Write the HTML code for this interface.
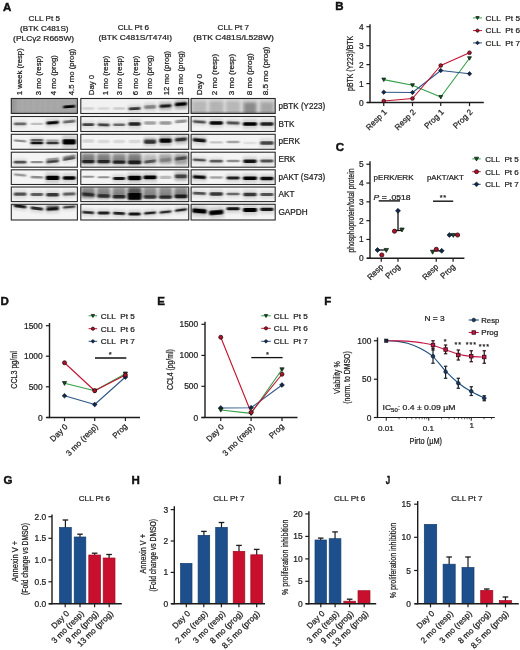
<!DOCTYPE html>
<html><head><meta charset="utf-8"><title>Figure</title>
<style>
html,body{margin:0;padding:0;background:#fff;}
body{width:520px;height:650px;overflow:hidden;font-family:"Liberation Sans", sans-serif;}
svg{display:block;font-family:"Liberation Sans", sans-serif;opacity:0.999;}
text{stroke:#222;stroke-width:0.24px;}
</style></head>
<body>
<svg width="520" height="650" viewBox="0 0 520 650">
<defs>
<filter id="b1" x="-30%" y="-150%" width="160%" height="400%"><feGaussianBlur stdDeviation="1.0 0.75"/></filter>
<filter id="b2" x="-30%" y="-100%" width="160%" height="300%"><feGaussianBlur stdDeviation="1.6 1.5"/></filter>
<filter id="b3" x="-20%" y="-50%" width="140%" height="200%"><feGaussianBlur stdDeviation="2.2"/></filter>
</defs>
<rect x="0" y="0" width="520" height="650" fill="#fff"/>
<text x="3" y="10.8" font-size="11.5" text-anchor="start" font-weight="bold" font-style="normal" fill="#111" style="stroke:#111;stroke-width:0.45px">A</text>
<text x="44.3" y="20.6" font-size="8.1" text-anchor="middle" font-weight="normal" font-style="normal" fill="#222" textLength="31.5" lengthAdjust="spacingAndGlyphs">CLL Pt 5</text>
<text x="44.3" y="30.6" font-size="8.1" text-anchor="middle" font-weight="normal" font-style="normal" fill="#222" textLength="48.5" lengthAdjust="spacingAndGlyphs">(BTK C481S)</text>
<text x="43.6" y="40.6" font-size="8.1" text-anchor="middle" font-weight="normal" font-style="normal" fill="#222" textLength="61" lengthAdjust="spacingAndGlyphs">(PLC&#947;2 R665W)</text>
<text x="133.4" y="29.8" font-size="8.1" text-anchor="middle" font-weight="normal" font-style="normal" fill="#222" textLength="31.5" lengthAdjust="spacingAndGlyphs">CLL Pt 6</text>
<text x="135.2" y="39.9" font-size="8.1" text-anchor="middle" font-weight="normal" font-style="normal" fill="#222" textLength="73.5" lengthAdjust="spacingAndGlyphs">(BTK C481S/T474I)</text>
<text x="233.3" y="29.8" font-size="8.1" text-anchor="middle" font-weight="normal" font-style="normal" fill="#222" textLength="31.5" lengthAdjust="spacingAndGlyphs">CLL Pt 7</text>
<text x="233.6" y="39.9" font-size="8.1" text-anchor="middle" font-weight="normal" font-style="normal" fill="#222" textLength="80.5" lengthAdjust="spacingAndGlyphs">(BTK C481S/L528W)</text>
<text transform="translate(22.3,95.2) rotate(-90) scale(1.0,1)" font-size="7.75" text-anchor="start" font-weight="normal" fill="#222">1 week (resp)</text>
<text transform="translate(40.9,95.2) rotate(-90) scale(1.0,1)" font-size="7.75" text-anchor="start" font-weight="normal" fill="#222">3 mo (resp)</text>
<text transform="translate(56.4,95.2) rotate(-90) scale(1.0,1)" font-size="7.75" text-anchor="start" font-weight="normal" fill="#222">4 mo (prog)</text>
<text transform="translate(74.0,95.2) rotate(-90) scale(1.0,1)" font-size="7.75" text-anchor="start" font-weight="normal" fill="#222">4.5 mo (prog)</text>
<text transform="translate(94.0,95.2) rotate(-90) scale(1.0,1)" font-size="7.75" text-anchor="start" font-weight="normal" fill="#222">Day 0</text>
<text transform="translate(108.3,95.2) rotate(-90) scale(1.0,1)" font-size="7.75" text-anchor="start" font-weight="normal" fill="#222">1 mo (resp)</text>
<text transform="translate(121.7,95.2) rotate(-90) scale(1.0,1)" font-size="7.75" text-anchor="start" font-weight="normal" fill="#222">3 mo (resp)</text>
<text transform="translate(137.8,95.2) rotate(-90) scale(1.0,1)" font-size="7.75" text-anchor="start" font-weight="normal" fill="#222">6 mo (resp)</text>
<text transform="translate(151.5,95.2) rotate(-90) scale(1.0,1)" font-size="7.75" text-anchor="start" font-weight="normal" fill="#222">9 mo (prog)</text>
<text transform="translate(169.0,95.2) rotate(-90) scale(1.0,1)" font-size="7.75" text-anchor="start" font-weight="normal" fill="#222">12 mo (prog)</text>
<text transform="translate(182.8,95.2) rotate(-90) scale(1.0,1)" font-size="7.75" text-anchor="start" font-weight="normal" fill="#222">13 mo (prog)</text>
<text transform="translate(201.9,95.2) rotate(-90) scale(1.0,1)" font-size="8.1" text-anchor="start" font-weight="normal" fill="#222">Day 0</text>
<text transform="translate(217.4,95.2) rotate(-90) scale(1.0,1)" font-size="8.1" text-anchor="start" font-weight="normal" fill="#222">2 mo (resp)</text>
<text transform="translate(234.3,95.2) rotate(-90) scale(1.0,1)" font-size="8.1" text-anchor="start" font-weight="normal" fill="#222">3 mo (resp)</text>
<text transform="translate(251.60000000000002,95.2) rotate(-90) scale(1.0,1)" font-size="8.1" text-anchor="start" font-weight="normal" fill="#222">8 mo (prog)</text>
<text transform="translate(267.6,95.2) rotate(-90) scale(1.0,1)" font-size="8.1" text-anchor="start" font-weight="normal" fill="#222">8.5 mo (prog)</text>
<clipPath id="c00"><rect x="11.3" y="98.5" width="66.10" height="15.00"/></clipPath>
<rect x="11.3" y="98.5" width="66.10" height="15.00" fill="#a6a6a6"/>
<g clip-path="url(#c00)">
<rect x="63.09" y="105.30" width="12.22" height="2.8" rx="1.4" fill="#000" opacity="0.975" filter="url(#b1)" transform="rotate(-4.21 69.20 106.7)"/>
<rect x="21.7" y="98" width="1.6" height="16" fill="#fff" opacity="0.07" filter="url(#b1)"/>
<rect x="27.2" y="98" width="1.6" height="16" fill="#fff" opacity="0.07" filter="url(#b1)"/>
<rect x="32.7" y="98" width="1.6" height="16" fill="#fff" opacity="0.07" filter="url(#b1)"/>
<rect x="39.2" y="98" width="1.6" height="16" fill="#fff" opacity="0.07" filter="url(#b1)"/>
<rect x="44.7" y="98" width="1.6" height="16" fill="#fff" opacity="0.07" filter="url(#b1)"/>
<rect x="50.2" y="98" width="1.6" height="16" fill="#fff" opacity="0.07" filter="url(#b1)"/>
<rect x="57.2" y="98" width="1.6" height="16" fill="#fff" opacity="0.07" filter="url(#b1)"/>
<rect x="10" y="111.8" width="69" height="2.2" fill="#000" opacity="0.12" filter="url(#b1)"/>
<rect x="10" y="98" width="6" height="16" fill="#000" opacity="0.08" filter="url(#b2)"/>
</g>
<rect x="11.3" y="98.5" width="66.10" height="15.00" fill="none" stroke="#2a2a2a" stroke-width="1.1"/>
<clipPath id="c01"><rect x="11.3" y="116.5" width="66.10" height="15.00"/></clipPath>
<rect x="11.3" y="116.5" width="66.10" height="15.00" fill="#f4f4f4"/>
<g clip-path="url(#c01)">
<rect x="13.30" y="120.26" width="13.60" height="7.28" fill="#000" opacity="0.080" filter="url(#b2)" transform="rotate(0.00 20.10 123.9)"/>
<rect x="13.80" y="122.55" width="12.60" height="2.6999999999999997" rx="1.3499999999999999" fill="#000" opacity="0.530" filter="url(#b1)" transform="rotate(0.00 20.10 123.9)"/>
<rect x="30.60" y="122.75" width="12.60" height="2.3" rx="1.15" fill="#000" opacity="0.212" filter="url(#b1)" transform="rotate(0.00 36.90 123.9)"/>
<rect x="45.80" y="118.84" width="13.60" height="7.72" fill="#000" opacity="0.144" filter="url(#b2)" transform="rotate(-4.54 52.60 122.7)"/>
<rect x="46.30" y="121.25" width="12.60" height="2.9" rx="1.4" fill="#000" opacity="0.954" filter="url(#b1)" transform="rotate(-4.54 52.60 122.7)"/>
<rect x="62.40" y="117.96" width="13.60" height="7.28" fill="#000" opacity="0.080" filter="url(#b2)" transform="rotate(-5.44 69.20 121.6)"/>
<rect x="62.90" y="120.25" width="12.60" height="2.6999999999999997" rx="1.3499999999999999" fill="#000" opacity="0.530" filter="url(#b1)" transform="rotate(-5.44 69.20 121.6)"/>
</g>
<rect x="11.3" y="116.5" width="66.10" height="15.00" fill="none" stroke="#2a2a2a" stroke-width="1.1"/>
<clipPath id="c02"><rect x="11.3" y="134.3" width="66.10" height="15.00"/></clipPath>
<rect x="11.3" y="134.3" width="66.10" height="15.00" fill="#f4f4f4"/>
<g clip-path="url(#c02)">
<rect x="13.80" y="139.65" width="12.60" height="2.3" rx="1.15" fill="#000" opacity="0.424" filter="url(#b1)" transform="rotate(4.54 20.10 140.8)"/>
<rect x="30.10" y="137.00" width="13.60" height="6.40" fill="#000" opacity="0.080" filter="url(#b2)" transform="rotate(0.00 36.90 140.2)"/>
<rect x="30.60" y="139.05" width="12.60" height="2.3" rx="1.15" fill="#000" opacity="0.530" filter="url(#b1)" transform="rotate(0.00 36.90 140.2)"/>
<rect x="30.10" y="139.58" width="13.60" height="6.84" fill="#000" opacity="0.136" filter="url(#b2)" transform="rotate(0.00 36.90 143)"/>
<rect x="30.60" y="141.75" width="12.60" height="2.5" rx="1.25" fill="#000" opacity="0.901" filter="url(#b1)" transform="rotate(0.00 36.90 143)"/>
<rect x="45.80" y="139.48" width="13.60" height="6.84" fill="#000" opacity="0.112" filter="url(#b2)" transform="rotate(0.00 52.60 142.9)"/>
<rect x="46.30" y="141.65" width="12.60" height="2.5" rx="1.25" fill="#000" opacity="0.742" filter="url(#b1)" transform="rotate(0.00 52.60 142.9)"/>
<rect x="46.30" y="139.45" width="12.60" height="2.1" rx="1.05" fill="#000" opacity="0.265" filter="url(#b1)" transform="rotate(0.00 52.60 140.5)"/>
<rect x="62.09" y="135.62" width="14.23" height="12.56" fill="#000" opacity="0.155" filter="url(#b2)" transform="rotate(0.00 69.20 141.9)"/>
<rect x="62.59" y="139.35" width="13.23" height="5.1" rx="1.4" fill="#000" opacity="1.000" filter="url(#b1)" transform="rotate(0.00 69.20 141.9)"/>
</g>
<rect x="11.3" y="134.3" width="66.10" height="15.00" fill="none" stroke="#2a2a2a" stroke-width="1.1"/>
<clipPath id="c03"><rect x="11.3" y="152.2" width="66.10" height="15.00"/></clipPath>
<rect x="11.3" y="152.2" width="66.10" height="15.00" fill="#f4f4f4"/>
<g clip-path="url(#c03)">
<rect x="13.30" y="158.56" width="13.60" height="7.28" fill="#000" opacity="0.096" filter="url(#b2)" transform="rotate(0.00 20.10 162.2)"/>
<rect x="13.80" y="160.85" width="12.60" height="2.6999999999999997" rx="1.3499999999999999" fill="#000" opacity="0.636" filter="url(#b1)" transform="rotate(0.00 20.10 162.2)"/>
<rect x="30.60" y="161.05" width="12.60" height="2.3" rx="1.15" fill="#000" opacity="0.424" filter="url(#b1)" transform="rotate(0.00 36.90 162.2)"/>
<rect x="45.80" y="158.08" width="13.60" height="6.84" fill="#000" opacity="0.112" filter="url(#b2)" transform="rotate(-5.44 52.60 161.5)"/>
<rect x="46.30" y="160.25" width="12.60" height="2.5" rx="1.25" fill="#000" opacity="0.742" filter="url(#b1)" transform="rotate(-5.44 52.60 161.5)"/>
<rect x="46.30" y="158.05" width="12.60" height="1.9000000000000001" rx="0.9500000000000001" fill="#000" opacity="0.318" filter="url(#b1)" transform="rotate(-5.44 52.60 159)"/>
<rect x="62.40" y="155.28" width="13.60" height="6.84" fill="#000" opacity="0.096" filter="url(#b2)" transform="rotate(-9.90 69.20 158.7)"/>
<rect x="62.90" y="157.45" width="12.60" height="2.5" rx="1.25" fill="#000" opacity="0.636" filter="url(#b1)" transform="rotate(-9.90 69.20 158.7)"/>
<rect x="62.90" y="155.55" width="12.60" height="2.1" rx="1.05" fill="#000" opacity="0.424" filter="url(#b1)" transform="rotate(-9.90 69.20 156.6)"/>
</g>
<rect x="11.3" y="152.2" width="66.10" height="15.00" fill="none" stroke="#2a2a2a" stroke-width="1.1"/>
<clipPath id="c04"><rect x="11.3" y="169.8" width="66.10" height="14.70"/></clipPath>
<rect x="11.3" y="169.8" width="66.10" height="14.70" fill="#f4f4f4"/>
<g clip-path="url(#c04)">
<rect x="13.80" y="173.85" width="12.60" height="2.3" rx="1.15" fill="#000" opacity="0.371" filter="url(#b1)" transform="rotate(5.44 20.10 175)"/>
<rect x="30.60" y="175.95" width="12.60" height="2.5" rx="1.25" fill="#000" opacity="0.424" filter="url(#b1)" transform="rotate(2.27 36.90 177.2)"/>
<rect x="45.48" y="172.50" width="14.23" height="10.80" fill="#000" opacity="0.160" filter="url(#b2)" transform="rotate(0.00 52.60 177.9)"/>
<rect x="45.98" y="175.75" width="13.23" height="4.3" rx="1.4" fill="#000" opacity="1.000" filter="url(#b1)" transform="rotate(0.00 52.60 177.9)"/>
<rect x="62.40" y="173.38" width="13.60" height="9.04" fill="#000" opacity="0.152" filter="url(#b2)" transform="rotate(0.00 69.20 177.9)"/>
<rect x="62.90" y="176.15" width="12.60" height="3.5" rx="1.4" fill="#000" opacity="1.000" filter="url(#b1)" transform="rotate(0.00 69.20 177.9)"/>
</g>
<rect x="11.3" y="169.8" width="66.10" height="14.70" fill="none" stroke="#2a2a2a" stroke-width="1.1"/>
<clipPath id="c05"><rect x="11.3" y="187.0" width="66.10" height="14.60"/></clipPath>
<rect x="11.3" y="187.0" width="66.10" height="14.60" fill="#f4f4f4"/>
<g clip-path="url(#c05)">
<rect x="13.30" y="189.90" width="13.60" height="8.60" fill="#000" opacity="0.096" filter="url(#b2)" transform="rotate(0.00 20.10 194.2)"/>
<rect x="13.80" y="192.55" width="12.60" height="3.3" rx="1.4" fill="#000" opacity="0.636" filter="url(#b1)" transform="rotate(0.00 20.10 194.2)"/>
<rect x="30.10" y="190.64" width="13.60" height="7.72" fill="#000" opacity="0.088" filter="url(#b2)" transform="rotate(0.00 36.90 194.5)"/>
<rect x="30.60" y="193.05" width="12.60" height="2.9" rx="1.4" fill="#000" opacity="0.583" filter="url(#b1)" transform="rotate(0.00 36.90 194.5)"/>
<rect x="45.80" y="190.28" width="13.60" height="9.04" fill="#000" opacity="0.112" filter="url(#b2)" transform="rotate(0.00 52.60 194.8)"/>
<rect x="46.30" y="193.05" width="12.60" height="3.5" rx="1.4" fill="#000" opacity="0.742" filter="url(#b1)" transform="rotate(0.00 52.60 194.8)"/>
<rect x="62.40" y="189.92" width="13.60" height="8.16" fill="#000" opacity="0.088" filter="url(#b2)" transform="rotate(-2.27 69.20 194)"/>
<rect x="62.90" y="192.45" width="12.60" height="3.0999999999999996" rx="1.4" fill="#000" opacity="0.583" filter="url(#b1)" transform="rotate(-2.27 69.20 194)"/>
</g>
<rect x="11.3" y="187.0" width="66.10" height="14.60" fill="none" stroke="#2a2a2a" stroke-width="1.1"/>
<clipPath id="c06"><rect x="11.3" y="204.3" width="66.10" height="15.70"/></clipPath>
<rect x="11.3" y="204.3" width="66.10" height="15.70" fill="#f4f4f4"/>
<g clip-path="url(#c06)">
<rect x="13.30" y="202.66" width="13.60" height="7.28" fill="#000" opacity="0.136" filter="url(#b2)" transform="rotate(6.79 20.10 206.3)"/>
<rect x="13.80" y="204.95" width="12.60" height="2.6999999999999997" rx="1.3499999999999999" fill="#000" opacity="0.901" filter="url(#b1)" transform="rotate(6.79 20.10 206.3)"/>
<rect x="30.10" y="204.64" width="13.60" height="7.72" fill="#000" opacity="0.120" filter="url(#b2)" transform="rotate(6.79 36.90 208.5)"/>
<rect x="30.60" y="207.05" width="12.60" height="2.9" rx="1.4" fill="#000" opacity="0.795" filter="url(#b1)" transform="rotate(6.79 36.90 208.5)"/>
<rect x="45.80" y="204.60" width="13.60" height="8.60" fill="#000" opacity="0.136" filter="url(#b2)" transform="rotate(-3.63 52.60 208.9)"/>
<rect x="46.30" y="207.25" width="12.60" height="3.3" rx="1.4" fill="#000" opacity="0.901" filter="url(#b1)" transform="rotate(-3.63 52.60 208.9)"/>
<rect x="46.30" y="205.45" width="12.60" height="2.1" rx="1.05" fill="#000" opacity="0.424" filter="url(#b1)" transform="rotate(0.00 52.60 206.5)"/>
<rect x="62.40" y="203.58" width="13.60" height="6.84" fill="#000" opacity="0.104" filter="url(#b2)" transform="rotate(-4.54 69.20 207)"/>
<rect x="62.90" y="205.75" width="12.60" height="2.5" rx="1.25" fill="#000" opacity="0.689" filter="url(#b1)" transform="rotate(-4.54 69.20 207)"/>
</g>
<rect x="11.3" y="204.3" width="66.10" height="15.70" fill="none" stroke="#2a2a2a" stroke-width="1.1"/>
<clipPath id="c10"><rect x="80.8" y="98.5" width="107.90" height="15.00"/></clipPath>
<rect x="80.8" y="98.5" width="107.90" height="15.00" fill="#f1f1f1"/>
<g clip-path="url(#c10)">
<rect x="82.20" y="107.35" width="12.00" height="2.3" rx="1.15" fill="#000" opacity="0.127" filter="url(#b1)" transform="rotate(0.00 88.20 108.5)"/>
<rect x="97.66" y="107.35" width="12.00" height="2.3" rx="1.15" fill="#000" opacity="0.106" filter="url(#b1)" transform="rotate(0.00 103.66 108.5)"/>
<rect x="113.12" y="107.35" width="12.00" height="2.3" rx="1.15" fill="#000" opacity="0.148" filter="url(#b1)" transform="rotate(0.00 119.12 108.5)"/>
<rect x="128.08" y="104.74" width="13.00" height="7.72" fill="#000" opacity="0.112" filter="url(#b2)" transform="rotate(-2.86 134.58 108.6)"/>
<rect x="128.58" y="107.15" width="12.00" height="2.9" rx="1.4" fill="#000" opacity="0.742" filter="url(#b1)" transform="rotate(-2.86 134.58 108.6)"/>
<rect x="144.04" y="105.35" width="12.00" height="3.3" rx="1.4" fill="#000" opacity="0.382" filter="url(#b1)" transform="rotate(-2.86 150.04 107)"/>
<rect x="159.00" y="102.14" width="13.00" height="7.72" fill="#000" opacity="0.128" filter="url(#b2)" transform="rotate(-3.81 165.50 106)"/>
<rect x="159.50" y="104.55" width="12.00" height="2.9" rx="1.4" fill="#000" opacity="0.848" filter="url(#b1)" transform="rotate(-3.81 165.50 106)"/>
<rect x="174.46" y="99.90" width="13.00" height="8.60" fill="#000" opacity="0.152" filter="url(#b2)" transform="rotate(-4.76 180.96 104.2)"/>
<rect x="174.96" y="102.55" width="12.00" height="3.3" rx="1.4" fill="#000" opacity="1.000" filter="url(#b1)" transform="rotate(-4.76 180.96 104.2)"/>
<rect x="144.04" y="103.00" width="12.00" height="8" rx="1.4" fill="#000" opacity="0.120" filter="url(#b2)" transform="rotate(0.00 150.04 107)"/>
<rect x="159.50" y="102.00" width="12.00" height="8" rx="1.4" fill="#000" opacity="0.140" filter="url(#b2)" transform="rotate(0.00 165.50 106)"/>
<rect x="174.96" y="101.00" width="12.00" height="8" rx="1.4" fill="#000" opacity="0.180" filter="url(#b2)" transform="rotate(0.00 180.96 105)"/>
</g>
<rect x="80.8" y="98.5" width="107.90" height="15.00" fill="none" stroke="#2a2a2a" stroke-width="1.1"/>
<clipPath id="c11"><rect x="80.8" y="116.5" width="107.90" height="15.00"/></clipPath>
<rect x="80.8" y="116.5" width="107.90" height="15.00" fill="#f4f4f4"/>
<g clip-path="url(#c11)">
<rect x="81.70" y="120.85" width="13.00" height="7.50" fill="#000" opacity="0.106" filter="url(#b2)" transform="rotate(0.00 88.20 124.6)"/>
<rect x="82.20" y="123.20" width="12.00" height="2.8" rx="1.4" fill="#000" opacity="0.700" filter="url(#b1)" transform="rotate(0.00 88.20 124.6)"/>
<rect x="97.16" y="121.05" width="13.00" height="7.50" fill="#000" opacity="0.106" filter="url(#b2)" transform="rotate(2.39 103.66 124.8)"/>
<rect x="97.66" y="123.40" width="12.00" height="2.8" rx="1.4" fill="#000" opacity="0.700" filter="url(#b1)" transform="rotate(2.39 103.66 124.8)"/>
<rect x="112.62" y="121.27" width="13.00" height="7.06" fill="#000" opacity="0.080" filter="url(#b2)" transform="rotate(0.00 119.12 124.8)"/>
<rect x="113.12" y="123.50" width="12.00" height="2.5999999999999996" rx="1.2999999999999998" fill="#000" opacity="0.530" filter="url(#b1)" transform="rotate(0.00 119.12 124.8)"/>
<rect x="128.08" y="119.26" width="13.00" height="9.48" fill="#000" opacity="0.125" filter="url(#b2)" transform="rotate(0.00 134.58 124)"/>
<rect x="128.58" y="122.15" width="12.00" height="3.6999999999999997" rx="1.4" fill="#000" opacity="0.827" filter="url(#b1)" transform="rotate(0.00 134.58 124)"/>
<rect x="144.04" y="121.35" width="12.00" height="3.3" rx="1.4" fill="#000" opacity="0.318" filter="url(#b1)" transform="rotate(0.00 150.04 123)"/>
<rect x="159.50" y="121.35" width="12.00" height="3.3" rx="1.4" fill="#000" opacity="0.360" filter="url(#b1)" transform="rotate(0.00 165.50 123)"/>
<rect x="174.96" y="119.65" width="12.00" height="3.3" rx="1.4" fill="#000" opacity="0.382" filter="url(#b1)" transform="rotate(-4.76 180.96 121.3)"/>
</g>
<rect x="80.8" y="116.5" width="107.90" height="15.00" fill="none" stroke="#2a2a2a" stroke-width="1.1"/>
<clipPath id="c12"><rect x="80.8" y="134.3" width="107.90" height="15.00"/></clipPath>
<rect x="80.8" y="134.3" width="107.90" height="15.00" fill="#f4f4f4"/>
<g clip-path="url(#c12)">
<rect x="82.20" y="139.35" width="12.00" height="3.3" rx="1.4" fill="#000" opacity="0.127" filter="url(#b1)" transform="rotate(0.00 88.20 141)"/>
<rect x="97.66" y="139.85" width="12.00" height="3.3" rx="1.4" fill="#000" opacity="0.106" filter="url(#b1)" transform="rotate(0.00 103.66 141.5)"/>
<rect x="113.12" y="139.85" width="12.00" height="3.3" rx="1.4" fill="#000" opacity="0.106" filter="url(#b1)" transform="rotate(0.00 119.12 141.5)"/>
<rect x="128.58" y="139.85" width="12.00" height="3.3" rx="1.4" fill="#000" opacity="0.106" filter="url(#b1)" transform="rotate(0.00 134.58 141.5)"/>
<rect x="143.54" y="137.70" width="13.00" height="8.60" fill="#000" opacity="0.112" filter="url(#b2)" transform="rotate(0.00 150.04 142)"/>
<rect x="144.04" y="140.35" width="12.00" height="3.3" rx="1.4" fill="#000" opacity="0.742" filter="url(#b1)" transform="rotate(0.00 150.04 142)"/>
<rect x="144.04" y="138.85" width="12.00" height="1.9000000000000001" rx="0.9500000000000001" fill="#000" opacity="0.318" filter="url(#b1)" transform="rotate(0.00 150.04 139.8)"/>
<rect x="159.00" y="135.20" width="13.00" height="10.80" fill="#000" opacity="0.144" filter="url(#b2)" transform="rotate(0.00 165.50 140.6)"/>
<rect x="159.50" y="138.45" width="12.00" height="4.3" rx="1.4" fill="#000" opacity="0.954" filter="url(#b1)" transform="rotate(0.00 165.50 140.6)"/>
<rect x="174.46" y="135.20" width="13.00" height="8.60" fill="#000" opacity="0.112" filter="url(#b2)" transform="rotate(-4.76 180.96 139.5)"/>
<rect x="174.96" y="137.85" width="12.00" height="3.3" rx="1.4" fill="#000" opacity="0.742" filter="url(#b1)" transform="rotate(-4.76 180.96 139.5)"/>
<rect x="144.04" y="137.00" width="12.00" height="8" rx="1.4" fill="#000" opacity="0.100" filter="url(#b2)" transform="rotate(0.00 150.04 141)"/>
<rect x="159.50" y="136.50" width="12.00" height="8" rx="1.4" fill="#000" opacity="0.150" filter="url(#b2)" transform="rotate(0.00 165.50 140.5)"/>
<rect x="174.96" y="136.00" width="12.00" height="8" rx="1.4" fill="#000" opacity="0.120" filter="url(#b2)" transform="rotate(0.00 180.96 140)"/>
</g>
<rect x="80.8" y="134.3" width="107.90" height="15.00" fill="none" stroke="#2a2a2a" stroke-width="1.1"/>
<clipPath id="c13"><rect x="80.8" y="152.2" width="107.90" height="15.00"/></clipPath>
<rect x="80.8" y="152.2" width="107.90" height="15.00" fill="#f4f4f4"/>
<g clip-path="url(#c13)">
<rect x="81.48" y="153.30" width="13.44" height="10" rx="1.4" fill="#000" opacity="0.450" filter="url(#b2)" transform="rotate(0.00 88.20 158.3)"/>
<rect x="96.94" y="153.30" width="13.44" height="10" rx="1.4" fill="#000" opacity="0.450" filter="url(#b2)" transform="rotate(0.00 103.66 158.3)"/>
<rect x="112.40" y="153.60" width="13.44" height="10" rx="1.4" fill="#000" opacity="0.420" filter="url(#b2)" transform="rotate(0.00 119.12 158.6)"/>
<rect x="127.86" y="153.35" width="13.44" height="10.5" rx="1.4" fill="#000" opacity="0.460" filter="url(#b2)" transform="rotate(0.00 134.58 158.6)"/>
<rect x="143.44" y="154.00" width="13.20" height="10" rx="1.4" fill="#000" opacity="0.200" filter="url(#b2)" transform="rotate(0.00 150.04 159)"/>
<rect x="158.90" y="154.00" width="13.20" height="10" rx="1.4" fill="#000" opacity="0.320" filter="url(#b2)" transform="rotate(0.00 165.50 159)"/>
<rect x="174.36" y="154.00" width="13.20" height="11" rx="1.4" fill="#000" opacity="0.300" filter="url(#b2)" transform="rotate(0.00 180.96 159.5)"/>
<rect x="81.40" y="157.30" width="13.60" height="8.60" fill="#000" opacity="0.109" filter="url(#b2)" transform="rotate(0.00 88.20 161.6)"/>
<rect x="81.90" y="159.95" width="12.60" height="3.3" rx="1.4" fill="#000" opacity="0.721" filter="url(#b1)" transform="rotate(0.00 88.20 161.6)"/>
<rect x="96.86" y="157.30" width="13.60" height="8.60" fill="#000" opacity="0.109" filter="url(#b2)" transform="rotate(0.00 103.66 161.6)"/>
<rect x="97.36" y="159.95" width="12.60" height="3.3" rx="1.4" fill="#000" opacity="0.721" filter="url(#b1)" transform="rotate(0.00 103.66 161.6)"/>
<rect x="112.32" y="157.90" width="13.60" height="8.60" fill="#000" opacity="0.112" filter="url(#b2)" transform="rotate(0.00 119.12 162.2)"/>
<rect x="112.82" y="160.55" width="12.60" height="3.3" rx="1.4" fill="#000" opacity="0.742" filter="url(#b1)" transform="rotate(0.00 119.12 162.2)"/>
<rect x="127.60" y="157.44" width="13.96" height="9.92" fill="#000" opacity="0.118" filter="url(#b2)" transform="rotate(0.00 134.58 162.4)"/>
<rect x="128.10" y="160.45" width="12.96" height="3.9" rx="1.4" fill="#000" opacity="0.784" filter="url(#b1)" transform="rotate(0.00 134.58 162.4)"/>
<rect x="143.54" y="157.64" width="13.00" height="7.72" fill="#000" opacity="0.080" filter="url(#b2)" transform="rotate(-7.13 150.04 161.5)"/>
<rect x="144.04" y="160.05" width="12.00" height="2.9" rx="1.4" fill="#000" opacity="0.530" filter="url(#b1)" transform="rotate(-7.13 150.04 161.5)"/>
<rect x="159.50" y="158.35" width="12.00" height="3.3" rx="1.4" fill="#000" opacity="0.233" filter="url(#b1)" transform="rotate(-4.76 165.50 160)"/>
<rect x="174.46" y="154.10" width="13.00" height="8.60" fill="#000" opacity="0.080" filter="url(#b2)" transform="rotate(-7.13 180.96 158.4)"/>
<rect x="174.96" y="156.75" width="12.00" height="3.3" rx="1.4" fill="#000" opacity="0.530" filter="url(#b1)" transform="rotate(-7.13 180.96 158.4)"/>
</g>
<rect x="80.8" y="152.2" width="107.90" height="15.00" fill="none" stroke="#2a2a2a" stroke-width="1.1"/>
<clipPath id="c14"><rect x="80.8" y="169.8" width="107.90" height="14.70"/></clipPath>
<rect x="80.8" y="169.8" width="107.90" height="14.70" fill="#f4f4f4"/>
<g clip-path="url(#c14)">
<rect x="82.20" y="175.75" width="12.00" height="2.1" rx="1.05" fill="#000" opacity="0.403" filter="url(#b1)" transform="rotate(0.00 88.20 176.8)"/>
<rect x="97.66" y="176.15" width="12.00" height="2.1" rx="1.05" fill="#000" opacity="0.403" filter="url(#b1)" transform="rotate(0.00 103.66 177.2)"/>
<rect x="112.62" y="174.64" width="13.00" height="7.72" fill="#000" opacity="0.136" filter="url(#b2)" transform="rotate(0.00 119.12 178.5)"/>
<rect x="113.12" y="177.05" width="12.00" height="2.9" rx="1.4" fill="#000" opacity="0.901" filter="url(#b1)" transform="rotate(0.00 119.12 178.5)"/>
<rect x="127.48" y="172.60" width="14.20" height="10.80" fill="#000" opacity="0.160" filter="url(#b2)" transform="rotate(0.00 134.58 178)"/>
<rect x="127.98" y="175.85" width="13.20" height="4.3" rx="1.4" fill="#000" opacity="1.000" filter="url(#b1)" transform="rotate(0.00 134.58 178)"/>
<rect x="143.06" y="172.66" width="13.96" height="9.48" fill="#000" opacity="0.160" filter="url(#b2)" transform="rotate(0.00 150.04 177.4)"/>
<rect x="143.56" y="175.55" width="12.96" height="3.6999999999999997" rx="1.4" fill="#000" opacity="1.000" filter="url(#b1)" transform="rotate(0.00 150.04 177.4)"/>
<rect x="159.50" y="175.75" width="12.00" height="3.3" rx="1.4" fill="#000" opacity="0.233" filter="url(#b1)" transform="rotate(0.00 165.50 177.4)"/>
<rect x="174.46" y="171.56" width="13.00" height="9.48" fill="#000" opacity="0.096" filter="url(#b2)" transform="rotate(0.00 180.96 176.3)"/>
<rect x="174.96" y="174.45" width="12.00" height="3.6999999999999997" rx="1.4" fill="#000" opacity="0.636" filter="url(#b1)" transform="rotate(0.00 180.96 176.3)"/>
<rect x="174.66" y="172.50" width="12.60" height="8" rx="1.4" fill="#000" opacity="0.200" filter="url(#b2)" transform="rotate(0.00 180.96 176.5)"/>
</g>
<rect x="80.8" y="169.8" width="107.90" height="14.70" fill="none" stroke="#2a2a2a" stroke-width="1.1"/>
<clipPath id="c15"><rect x="80.8" y="187.0" width="107.90" height="14.60"/></clipPath>
<rect x="80.8" y="187.0" width="107.90" height="14.60" fill="#f4f4f4"/>
<g clip-path="url(#c15)">
<rect x="81.48" y="187.00" width="13.44" height="11" rx="1.4" fill="#000" opacity="0.420" filter="url(#b2)" transform="rotate(0.00 88.20 192.5)"/>
<rect x="96.94" y="187.00" width="13.44" height="11" rx="1.4" fill="#000" opacity="0.420" filter="url(#b2)" transform="rotate(0.00 103.66 192.5)"/>
<rect x="112.40" y="187.00" width="13.44" height="11" rx="1.4" fill="#000" opacity="0.420" filter="url(#b2)" transform="rotate(0.00 119.12 192.5)"/>
<rect x="127.86" y="187.00" width="13.44" height="11" rx="1.4" fill="#000" opacity="0.420" filter="url(#b2)" transform="rotate(0.00 134.58 192.5)"/>
<rect x="143.32" y="187.00" width="13.44" height="11" rx="1.4" fill="#000" opacity="0.420" filter="url(#b2)" transform="rotate(0.00 150.04 192.5)"/>
<rect x="158.78" y="187.00" width="13.44" height="11" rx="1.4" fill="#000" opacity="0.420" filter="url(#b2)" transform="rotate(0.00 165.50 192.5)"/>
<rect x="174.24" y="187.00" width="13.44" height="11" rx="1.4" fill="#000" opacity="0.420" filter="url(#b2)" transform="rotate(0.00 180.96 192.5)"/>
<rect x="127.98" y="188.00" width="13.20" height="12" rx="1.4" fill="#000" opacity="0.300" filter="url(#b2)" transform="rotate(0.00 134.58 194)"/>
<rect x="81.40" y="190.08" width="13.60" height="9.04" fill="#000" opacity="0.099" filter="url(#b2)" transform="rotate(5.44 88.20 194.6)"/>
<rect x="81.90" y="192.85" width="12.60" height="3.5" rx="1.4" fill="#000" opacity="0.657" filter="url(#b1)" transform="rotate(5.44 88.20 194.6)"/>
<rect x="96.86" y="191.48" width="13.60" height="9.04" fill="#000" opacity="0.099" filter="url(#b2)" transform="rotate(1.82 103.66 196)"/>
<rect x="97.36" y="194.25" width="12.60" height="3.5" rx="1.4" fill="#000" opacity="0.657" filter="url(#b1)" transform="rotate(1.82 103.66 196)"/>
<rect x="112.32" y="192.28" width="13.60" height="9.04" fill="#000" opacity="0.109" filter="url(#b2)" transform="rotate(0.00 119.12 196.8)"/>
<rect x="112.82" y="195.05" width="12.60" height="3.5" rx="1.4" fill="#000" opacity="0.721" filter="url(#b1)" transform="rotate(0.00 119.12 196.8)"/>
<rect x="127.48" y="188.25" width="14.20" height="16.30" fill="#000" opacity="0.144" filter="url(#b2)" transform="rotate(0.00 134.58 196.4)"/>
<rect x="127.98" y="193.00" width="13.20" height="6.8" rx="1.4" fill="#000" opacity="0.954" filter="url(#b1)" transform="rotate(0.00 134.58 196.4)"/>
<rect x="143.24" y="192.70" width="13.60" height="8.60" fill="#000" opacity="0.099" filter="url(#b2)" transform="rotate(0.00 150.04 197)"/>
<rect x="143.74" y="195.35" width="12.60" height="3.3" rx="1.4" fill="#000" opacity="0.657" filter="url(#b1)" transform="rotate(0.00 150.04 197)"/>
<rect x="158.70" y="192.90" width="13.60" height="8.60" fill="#000" opacity="0.109" filter="url(#b2)" transform="rotate(0.00 165.50 197.2)"/>
<rect x="159.20" y="195.55" width="12.60" height="3.3" rx="1.4" fill="#000" opacity="0.721" filter="url(#b1)" transform="rotate(0.00 165.50 197.2)"/>
<rect x="174.16" y="191.66" width="13.60" height="9.48" fill="#000" opacity="0.120" filter="url(#b2)" transform="rotate(0.00 180.96 196.4)"/>
<rect x="174.66" y="194.55" width="12.60" height="3.6999999999999997" rx="1.4" fill="#000" opacity="0.795" filter="url(#b1)" transform="rotate(0.00 180.96 196.4)"/>
</g>
<rect x="80.8" y="187.0" width="107.90" height="14.60" fill="none" stroke="#2a2a2a" stroke-width="1.1"/>
<clipPath id="c16"><rect x="80.8" y="204.3" width="107.90" height="15.70"/></clipPath>
<rect x="80.8" y="204.3" width="107.90" height="15.70" fill="#f4f4f4"/>
<g clip-path="url(#c16)">
<rect x="81.70" y="208.86" width="13.00" height="7.28" fill="#000" opacity="0.128" filter="url(#b2)" transform="rotate(3.81 88.20 212.5)"/>
<rect x="82.20" y="211.15" width="12.00" height="2.6999999999999997" rx="1.3499999999999999" fill="#000" opacity="0.848" filter="url(#b1)" transform="rotate(3.81 88.20 212.5)"/>
<rect x="97.16" y="209.14" width="13.00" height="7.72" fill="#000" opacity="0.128" filter="url(#b2)" transform="rotate(0.00 103.66 213)"/>
<rect x="97.66" y="211.55" width="12.00" height="2.9" rx="1.4" fill="#000" opacity="0.848" filter="url(#b1)" transform="rotate(0.00 103.66 213)"/>
<rect x="112.62" y="209.76" width="13.00" height="7.28" fill="#000" opacity="0.128" filter="url(#b2)" transform="rotate(2.86 119.12 213.4)"/>
<rect x="113.12" y="212.05" width="12.00" height="2.6999999999999997" rx="1.3499999999999999" fill="#000" opacity="0.848" filter="url(#b1)" transform="rotate(2.86 119.12 213.4)"/>
<rect x="128.08" y="209.92" width="13.00" height="8.16" fill="#000" opacity="0.136" filter="url(#b2)" transform="rotate(0.00 134.58 214)"/>
<rect x="128.58" y="212.45" width="12.00" height="3.0999999999999996" rx="1.4" fill="#000" opacity="0.901" filter="url(#b1)" transform="rotate(0.00 134.58 214)"/>
<rect x="143.54" y="209.58" width="13.00" height="6.84" fill="#000" opacity="0.128" filter="url(#b2)" transform="rotate(-4.76 150.04 213)"/>
<rect x="144.04" y="211.75" width="12.00" height="2.5" rx="1.25" fill="#000" opacity="0.848" filter="url(#b1)" transform="rotate(-4.76 150.04 213)"/>
<rect x="159.00" y="208.80" width="13.00" height="6.40" fill="#000" opacity="0.120" filter="url(#b2)" transform="rotate(-5.71 165.50 212)"/>
<rect x="159.50" y="210.85" width="12.00" height="2.3" rx="1.15" fill="#000" opacity="0.795" filter="url(#b1)" transform="rotate(-5.71 165.50 212)"/>
<rect x="174.46" y="206.58" width="13.00" height="6.84" fill="#000" opacity="0.128" filter="url(#b2)" transform="rotate(-7.13 180.96 210)"/>
<rect x="174.96" y="208.75" width="12.00" height="2.5" rx="1.25" fill="#000" opacity="0.848" filter="url(#b1)" transform="rotate(-7.13 180.96 210)"/>
</g>
<rect x="80.8" y="204.3" width="107.90" height="15.70" fill="none" stroke="#2a2a2a" stroke-width="1.1"/>
<clipPath id="c20"><rect x="191.1" y="98.5" width="84.10" height="15.00"/></clipPath>
<rect x="191.1" y="98.5" width="84.10" height="15.00" fill="#c6c6c6"/>
<g clip-path="url(#c20)">
<rect x="193.46" y="101.00" width="11.88" height="12" rx="1.4" fill="#000" opacity="0.070" filter="url(#b2)" transform="rotate(0.00 199.40 107)"/>
<rect x="210.33" y="101.00" width="11.88" height="12" rx="1.4" fill="#000" opacity="0.090" filter="url(#b2)" transform="rotate(0.00 216.27 107)"/>
<rect x="227.20" y="101.00" width="11.88" height="12" rx="1.4" fill="#000" opacity="0.070" filter="url(#b2)" transform="rotate(0.00 233.14 107)"/>
<rect x="244.07" y="102.50" width="11.88" height="11" rx="1.4" fill="#000" opacity="0.300" filter="url(#b2)" transform="rotate(0.00 250.01 108)"/>
<rect x="260.94" y="102.50" width="11.88" height="11" rx="1.4" fill="#000" opacity="0.160" filter="url(#b2)" transform="rotate(0.00 266.88 108)"/>
<rect x="206.7" y="98" width="2.0" height="16" fill="#fff" opacity="0.33" filter="url(#b1)"/>
<rect x="223.8" y="98" width="2.0" height="16" fill="#fff" opacity="0.33" filter="url(#b1)"/>
<rect x="240.4" y="98" width="2.0" height="16" fill="#fff" opacity="0.33" filter="url(#b1)"/>
<rect x="257.5" y="98" width="2.0" height="16" fill="#fff" opacity="0.33" filter="url(#b1)"/>
<rect x="190" y="97.5" width="87" height="3.4" fill="#fff" opacity="0.35" filter="url(#b2)"/>
<rect x="190" y="111.6" width="87" height="2.6" fill="#000" opacity="0.22" filter="url(#b1)"/>
</g>
<rect x="191.1" y="98.5" width="84.10" height="15.00" fill="none" stroke="#2a2a2a" stroke-width="1.1"/>
<clipPath id="c21"><rect x="191.1" y="116.5" width="84.10" height="15.00"/></clipPath>
<rect x="191.1" y="116.5" width="84.10" height="15.00" fill="#f4f4f4"/>
<g clip-path="url(#c21)">
<rect x="192.30" y="118.16" width="14.20" height="7.28" fill="#000" opacity="0.096" filter="url(#b2)" transform="rotate(4.33 199.40 121.8)"/>
<rect x="192.80" y="120.45" width="13.20" height="2.6999999999999997" rx="1.3499999999999999" fill="#000" opacity="0.636" filter="url(#b1)" transform="rotate(4.33 199.40 121.8)"/>
<rect x="209.17" y="118.70" width="14.20" height="8.60" fill="#000" opacity="0.144" filter="url(#b2)" transform="rotate(0.00 216.27 123)"/>
<rect x="209.67" y="121.35" width="13.20" height="3.3" rx="1.4" fill="#000" opacity="0.954" filter="url(#b1)" transform="rotate(0.00 216.27 123)"/>
<rect x="226.04" y="119.14" width="14.20" height="7.72" fill="#000" opacity="0.096" filter="url(#b2)" transform="rotate(2.60 233.14 123)"/>
<rect x="226.54" y="121.55" width="13.20" height="2.9" rx="1.4" fill="#000" opacity="0.636" filter="url(#b1)" transform="rotate(2.60 233.14 123)"/>
<rect x="242.58" y="119.26" width="14.86" height="9.48" fill="#000" opacity="0.152" filter="url(#b2)" transform="rotate(0.00 250.01 124)"/>
<rect x="243.08" y="122.15" width="13.86" height="3.6999999999999997" rx="1.4" fill="#000" opacity="1.000" filter="url(#b1)" transform="rotate(0.00 250.01 124)"/>
<rect x="259.78" y="119.70" width="14.20" height="8.60" fill="#000" opacity="0.128" filter="url(#b2)" transform="rotate(0.00 266.88 124)"/>
<rect x="260.28" y="122.35" width="13.20" height="3.3" rx="1.4" fill="#000" opacity="0.848" filter="url(#b1)" transform="rotate(0.00 266.88 124)"/>
</g>
<rect x="191.1" y="116.5" width="84.10" height="15.00" fill="none" stroke="#2a2a2a" stroke-width="1.1"/>
<clipPath id="c22"><rect x="191.1" y="134.3" width="84.10" height="15.00"/></clipPath>
<rect x="191.1" y="134.3" width="84.10" height="15.00" fill="#f4f4f4"/>
<g clip-path="url(#c22)">
<rect x="192.30" y="135.68" width="14.20" height="9.04" fill="#000" opacity="0.136" filter="url(#b2)" transform="rotate(5.19 199.40 140.2)"/>
<rect x="192.80" y="138.45" width="13.20" height="3.5" rx="1.4" fill="#000" opacity="0.901" filter="url(#b1)" transform="rotate(5.19 199.40 140.2)"/>
<rect x="209.67" y="141.25" width="13.20" height="2.3" rx="1.15" fill="#000" opacity="0.191" filter="url(#b1)" transform="rotate(0.00 216.27 142.4)"/>
<rect x="226.54" y="140.85" width="13.20" height="2.3" rx="1.15" fill="#000" opacity="0.318" filter="url(#b1)" transform="rotate(0.00 233.14 142)"/>
<rect x="243.41" y="141.85" width="13.20" height="2.3" rx="1.15" fill="#000" opacity="0.085" filter="url(#b1)" transform="rotate(0.00 250.01 143)"/>
<rect x="259.78" y="138.26" width="14.20" height="9.48" fill="#000" opacity="0.104" filter="url(#b2)" transform="rotate(0.00 266.88 143)"/>
<rect x="260.28" y="141.15" width="13.20" height="3.6999999999999997" rx="1.4" fill="#000" opacity="0.689" filter="url(#b1)" transform="rotate(0.00 266.88 143)"/>
</g>
<rect x="191.1" y="134.3" width="84.10" height="15.00" fill="none" stroke="#2a2a2a" stroke-width="1.1"/>
<clipPath id="c23"><rect x="191.1" y="152.2" width="84.10" height="15.00"/></clipPath>
<rect x="191.1" y="152.2" width="84.10" height="15.00" fill="#f4f4f4"/>
<g clip-path="url(#c23)">
<rect x="192.30" y="156.36" width="14.20" height="7.28" fill="#000" opacity="0.096" filter="url(#b2)" transform="rotate(3.47 199.40 160)"/>
<rect x="192.80" y="158.65" width="13.20" height="2.6999999999999997" rx="1.3499999999999999" fill="#000" opacity="0.636" filter="url(#b1)" transform="rotate(3.47 199.40 160)"/>
<rect x="209.17" y="157.56" width="14.20" height="7.28" fill="#000" opacity="0.088" filter="url(#b2)" transform="rotate(0.00 216.27 161.2)"/>
<rect x="209.67" y="159.85" width="13.20" height="2.6999999999999997" rx="1.3499999999999999" fill="#000" opacity="0.583" filter="url(#b1)" transform="rotate(0.00 216.27 161.2)"/>
<rect x="226.54" y="159.75" width="13.20" height="2.5" rx="1.25" fill="#000" opacity="0.424" filter="url(#b1)" transform="rotate(0.00 233.14 161)"/>
<rect x="242.91" y="156.68" width="14.20" height="9.04" fill="#000" opacity="0.136" filter="url(#b2)" transform="rotate(0.00 250.01 161.2)"/>
<rect x="243.41" y="159.45" width="13.20" height="3.5" rx="1.4" fill="#000" opacity="0.901" filter="url(#b1)" transform="rotate(0.00 250.01 161.2)"/>
<rect x="259.78" y="157.14" width="14.20" height="7.72" fill="#000" opacity="0.096" filter="url(#b2)" transform="rotate(0.00 266.88 161)"/>
<rect x="260.28" y="159.55" width="13.20" height="2.9" rx="1.4" fill="#000" opacity="0.636" filter="url(#b1)" transform="rotate(0.00 266.88 161)"/>
</g>
<rect x="191.1" y="152.2" width="84.10" height="15.00" fill="none" stroke="#2a2a2a" stroke-width="1.1"/>
<clipPath id="c24"><rect x="191.1" y="169.8" width="84.10" height="14.70"/></clipPath>
<rect x="191.1" y="169.8" width="84.10" height="14.70" fill="#f4f4f4"/>
<g clip-path="url(#c24)">
<rect x="192.30" y="173.02" width="14.20" height="8.16" fill="#000" opacity="0.144" filter="url(#b2)" transform="rotate(3.47 199.40 177.1)"/>
<rect x="192.80" y="175.55" width="13.20" height="3.0999999999999996" rx="1.4" fill="#000" opacity="0.954" filter="url(#b1)" transform="rotate(3.47 199.40 177.1)"/>
<rect x="209.67" y="176.35" width="13.20" height="2.3" rx="1.15" fill="#000" opacity="0.318" filter="url(#b1)" transform="rotate(0.00 216.27 177.5)"/>
<rect x="226.04" y="174.14" width="14.20" height="7.72" fill="#000" opacity="0.128" filter="url(#b2)" transform="rotate(0.00 233.14 178)"/>
<rect x="226.54" y="176.55" width="13.20" height="2.9" rx="1.4" fill="#000" opacity="0.848" filter="url(#b1)" transform="rotate(0.00 233.14 178)"/>
<rect x="242.58" y="173.68" width="14.86" height="9.04" fill="#000" opacity="0.152" filter="url(#b2)" transform="rotate(0.00 250.01 178.2)"/>
<rect x="243.08" y="176.45" width="13.86" height="3.5" rx="1.4" fill="#000" opacity="1.000" filter="url(#b1)" transform="rotate(0.00 250.01 178.2)"/>
<rect x="259.78" y="174.20" width="14.20" height="8.60" fill="#000" opacity="0.144" filter="url(#b2)" transform="rotate(0.00 266.88 178.5)"/>
<rect x="260.28" y="176.85" width="13.20" height="3.3" rx="1.4" fill="#000" opacity="0.954" filter="url(#b1)" transform="rotate(0.00 266.88 178.5)"/>
</g>
<rect x="191.1" y="169.8" width="84.10" height="14.70" fill="none" stroke="#2a2a2a" stroke-width="1.1"/>
<clipPath id="c25"><rect x="191.1" y="187.0" width="84.10" height="14.60"/></clipPath>
<rect x="191.1" y="187.0" width="84.10" height="14.60" fill="#f4f4f4"/>
<g clip-path="url(#c25)">
<rect x="192.30" y="189.76" width="14.20" height="7.28" fill="#000" opacity="0.096" filter="url(#b2)" transform="rotate(2.60 199.40 193.4)"/>
<rect x="192.80" y="192.05" width="13.20" height="2.6999999999999997" rx="1.3499999999999999" fill="#000" opacity="0.636" filter="url(#b1)" transform="rotate(2.60 199.40 193.4)"/>
<rect x="209.17" y="189.48" width="14.20" height="9.04" fill="#000" opacity="0.112" filter="url(#b2)" transform="rotate(0.00 216.27 194)"/>
<rect x="209.67" y="192.25" width="13.20" height="3.5" rx="1.4" fill="#000" opacity="0.742" filter="url(#b1)" transform="rotate(0.00 216.27 194)"/>
<rect x="226.04" y="190.36" width="14.20" height="7.28" fill="#000" opacity="0.080" filter="url(#b2)" transform="rotate(0.00 233.14 194)"/>
<rect x="226.54" y="192.65" width="13.20" height="2.6999999999999997" rx="1.3499999999999999" fill="#000" opacity="0.530" filter="url(#b1)" transform="rotate(0.00 233.14 194)"/>
<rect x="242.91" y="189.76" width="14.20" height="9.48" fill="#000" opacity="0.112" filter="url(#b2)" transform="rotate(0.00 250.01 194.5)"/>
<rect x="243.41" y="192.65" width="13.20" height="3.6999999999999997" rx="1.4" fill="#000" opacity="0.742" filter="url(#b1)" transform="rotate(0.00 250.01 194.5)"/>
<rect x="259.78" y="190.42" width="14.20" height="8.16" fill="#000" opacity="0.096" filter="url(#b2)" transform="rotate(0.00 266.88 194.5)"/>
<rect x="260.28" y="192.95" width="13.20" height="3.0999999999999996" rx="1.4" fill="#000" opacity="0.636" filter="url(#b1)" transform="rotate(0.00 266.88 194.5)"/>
</g>
<rect x="191.1" y="187.0" width="84.10" height="14.60" fill="none" stroke="#2a2a2a" stroke-width="1.1"/>
<clipPath id="c26"><rect x="191.1" y="204.3" width="84.10" height="15.70"/></clipPath>
<rect x="191.1" y="204.3" width="84.10" height="15.70" fill="#f4f4f4"/>
<g clip-path="url(#c26)">
<rect x="191.77" y="205.48" width="15.26" height="11.24" fill="#000" opacity="0.155" filter="url(#b2)" transform="rotate(4.81 199.40 211.1)"/>
<rect x="192.27" y="208.85" width="14.26" height="4.5" rx="1.4" fill="#000" opacity="1.000" filter="url(#b1)" transform="rotate(4.81 199.40 211.1)"/>
<rect x="208.64" y="206.78" width="15.26" height="11.24" fill="#000" opacity="0.155" filter="url(#b2)" transform="rotate(-4.81 216.27 212.4)"/>
<rect x="209.14" y="210.15" width="14.26" height="4.5" rx="1.4" fill="#000" opacity="1.000" filter="url(#b1)" transform="rotate(-4.81 216.27 212.4)"/>
<rect x="226.04" y="204.72" width="14.20" height="8.16" fill="#000" opacity="0.136" filter="url(#b2)" transform="rotate(0.00 233.14 208.8)"/>
<rect x="226.54" y="207.25" width="13.20" height="3.0999999999999996" rx="1.4" fill="#000" opacity="0.901" filter="url(#b1)" transform="rotate(0.00 233.14 208.8)"/>
<rect x="242.58" y="205.04" width="14.86" height="9.92" fill="#000" opacity="0.152" filter="url(#b2)" transform="rotate(0.00 250.01 210)"/>
<rect x="243.08" y="208.05" width="13.86" height="3.9" rx="1.4" fill="#000" opacity="1.000" filter="url(#b1)" transform="rotate(0.00 250.01 210)"/>
<rect x="259.78" y="205.00" width="14.20" height="8.60" fill="#000" opacity="0.136" filter="url(#b2)" transform="rotate(0.00 266.88 209.3)"/>
<rect x="260.28" y="207.65" width="13.20" height="3.3" rx="1.4" fill="#000" opacity="0.901" filter="url(#b1)" transform="rotate(0.00 266.88 209.3)"/>
</g>
<rect x="191.1" y="204.3" width="84.10" height="15.70" fill="none" stroke="#2a2a2a" stroke-width="1.1"/>
<text x="278.5" y="108.5" font-size="8.2" text-anchor="start" font-weight="normal" font-style="normal" fill="#222" textLength="46.6" lengthAdjust="spacingAndGlyphs">pBTK (Y223)</text>
<text x="278.5" y="126.5" font-size="8.2" text-anchor="start" font-weight="normal" font-style="normal" fill="#222" >BTK</text>
<text x="278.5" y="144.3" font-size="8.2" text-anchor="start" font-weight="normal" font-style="normal" fill="#222" >pERK</text>
<text x="278.5" y="162.2" font-size="8.2" text-anchor="start" font-weight="normal" font-style="normal" fill="#222" >ERK</text>
<text x="278.5" y="179.65" font-size="8.2" text-anchor="start" font-weight="normal" font-style="normal" fill="#222" textLength="46.6" lengthAdjust="spacingAndGlyphs">pAKT (S473)</text>
<text x="278.5" y="196.8" font-size="8.2" text-anchor="start" font-weight="normal" font-style="normal" fill="#222" >AKT</text>
<text x="278.5" y="214.65" font-size="8.2" text-anchor="start" font-weight="normal" font-style="normal" fill="#222" >GAPDH</text>
<text x="335.3" y="10.1" font-size="11.5" text-anchor="start" font-weight="bold" font-style="normal" fill="#111" style="stroke:#111;stroke-width:0.45px">B</text>
<line x1="370" y1="24.2" x2="370" y2="103.1" stroke="#1c1c1c" stroke-width="1.4" />
<line x1="366.4" y1="102.5" x2="370" y2="102.5" stroke="#1c1c1c" stroke-width="1.2" />
<text x="363.6" y="105.5" font-size="8.4" text-anchor="end" font-weight="normal" font-style="normal" fill="#222" >0</text>
<line x1="366.4" y1="83.56" x2="370" y2="83.56" stroke="#1c1c1c" stroke-width="1.2" />
<text x="363.6" y="86.56" font-size="8.4" text-anchor="end" font-weight="normal" font-style="normal" fill="#222" >1</text>
<line x1="366.4" y1="64.62" x2="370" y2="64.62" stroke="#1c1c1c" stroke-width="1.2" />
<text x="363.6" y="67.62" font-size="8.4" text-anchor="end" font-weight="normal" font-style="normal" fill="#222" >2</text>
<line x1="366.4" y1="45.67999999999999" x2="370" y2="45.67999999999999" stroke="#1c1c1c" stroke-width="1.2" />
<text x="363.6" y="48.67999999999999" font-size="8.4" text-anchor="end" font-weight="normal" font-style="normal" fill="#222" >3</text>
<line x1="366.4" y1="26.739999999999995" x2="370" y2="26.739999999999995" stroke="#1c1c1c" stroke-width="1.2" />
<text x="363.6" y="29.739999999999995" font-size="8.4" text-anchor="end" font-weight="normal" font-style="normal" fill="#222" >4</text>
<line x1="367" y1="102.5" x2="483.8" y2="102.5" stroke="#1c1c1c" stroke-width="1.4" />
<line x1="383.75" y1="102.5" x2="383.75" y2="106.10000000000001" stroke="#1c1c1c" stroke-width="1.2" />
<line x1="412.5" y1="102.5" x2="412.5" y2="106.10000000000001" stroke="#1c1c1c" stroke-width="1.2" />
<line x1="440.75" y1="102.5" x2="440.75" y2="106.10000000000001" stroke="#1c1c1c" stroke-width="1.2" />
<line x1="469.5" y1="102.5" x2="469.5" y2="106.10000000000001" stroke="#1c1c1c" stroke-width="1.2" />
<text transform="translate(387.35,112.5) rotate(-45) scale(1.0,1)" font-size="8.1" text-anchor="end" font-weight="normal" fill="#222">Resp 1</text>
<text transform="translate(416.1,112.5) rotate(-45) scale(1.0,1)" font-size="8.1" text-anchor="end" font-weight="normal" fill="#222">Resp 2</text>
<text transform="translate(444.35,112.5) rotate(-45) scale(1.0,1)" font-size="8.1" text-anchor="end" font-weight="normal" fill="#222">Prog 1</text>
<text transform="translate(473.1,112.5) rotate(-45) scale(1.0,1)" font-size="8.1" text-anchor="end" font-weight="normal" fill="#222">Prog 2</text>
<text transform="translate(353.2,63.4) rotate(-90)" font-size="8.6" text-anchor="middle" fill="#222" textLength="55" lengthAdjust="spacingAndGlyphs">pBTK (Y223)/BTK</text>
<polyline points="383.75,79.60 412.50,85.25 440.75,97.00 469.50,58.25" fill="none" stroke="#34a04a" stroke-width="1.1" stroke-linejoin="round"/>
<polyline points="383.75,92.20 412.50,92.50 440.75,70.50 469.50,73.75" fill="none" stroke="#2f5688" stroke-width="1.1" stroke-linejoin="round"/>
<polyline points="383.75,101.00 412.50,98.50 440.75,65.50 469.50,52.75" fill="none" stroke="#c4122f" stroke-width="1.1" stroke-linejoin="round"/>
<polygon points="381.80,78.04 385.70,78.04 383.75,81.55" fill="#174a24" stroke="#0c1a10" stroke-width="0.7" stroke-linejoin="round"/>
<polygon points="410.55,83.69 414.45,83.69 412.50,87.20" fill="#174a24" stroke="#0c1a10" stroke-width="0.7" stroke-linejoin="round"/>
<polygon points="438.80,95.44 442.70,95.44 440.75,98.95" fill="#174a24" stroke="#0c1a10" stroke-width="0.7" stroke-linejoin="round"/>
<polygon points="467.55,56.69 471.45,56.69 469.50,60.20" fill="#174a24" stroke="#0c1a10" stroke-width="0.7" stroke-linejoin="round"/>
<polygon points="381.56,92.2 383.75,90.02 385.94,92.2 383.75,94.39" fill="#10284a" stroke="#0a1220" stroke-width="0.6" stroke-linejoin="round"/>
<polygon points="410.31,92.5 412.5,90.31 414.69,92.5 412.5,94.69" fill="#10284a" stroke="#0a1220" stroke-width="0.6" stroke-linejoin="round"/>
<polygon points="438.56,70.5 440.75,68.31 442.94,70.5 440.75,72.69" fill="#10284a" stroke="#0a1220" stroke-width="0.6" stroke-linejoin="round"/>
<polygon points="467.31,73.75 469.5,71.56 471.69,73.75 469.5,75.94" fill="#10284a" stroke="#0a1220" stroke-width="0.6" stroke-linejoin="round"/>
<circle cx="383.75" cy="101" r="1.8399999999999999" fill="#b0122b" stroke="#2a0a0e" stroke-width="0.8"/>
<circle cx="412.5" cy="98.5" r="1.8399999999999999" fill="#b0122b" stroke="#2a0a0e" stroke-width="0.8"/>
<circle cx="440.75" cy="65.5" r="1.8399999999999999" fill="#b0122b" stroke="#2a0a0e" stroke-width="0.8"/>
<circle cx="469.5" cy="52.75" r="1.8399999999999999" fill="#b0122b" stroke="#2a0a0e" stroke-width="0.8"/>
<line x1="473" y1="17.9" x2="482" y2="17.9" stroke="#34a04a" stroke-width="1" />
<polygon points="475.80,16.54 479.20,16.54 477.50,19.60" fill="#174a24" stroke="#0c1a10" stroke-width="0.7" stroke-linejoin="round"/>
<text x="485.6" y="20.5" font-size="8.1" text-anchor="start" font-weight="normal" font-style="normal" fill="#222" textLength="34.4" lengthAdjust="spacingAndGlyphs">CLL&#160;&#160;Pt 5</text>
<line x1="473" y1="30.6" x2="482" y2="30.6" stroke="#c4122f" stroke-width="1" />
<circle cx="477.5" cy="30.6" r="1.6" fill="#b0122b" stroke="#2a0a0e" stroke-width="0.8"/>
<text x="485.6" y="33.2" font-size="8.1" text-anchor="start" font-weight="normal" font-style="normal" fill="#222" textLength="34.4" lengthAdjust="spacingAndGlyphs">CLL&#160;&#160;Pt 6</text>
<line x1="473" y1="42.9" x2="482" y2="42.9" stroke="#2f5688" stroke-width="1" />
<polygon points="475.60,42.9 477.5,41.00 479.40,42.9 477.5,44.80" fill="#10284a" stroke="#0a1220" stroke-width="0.6" stroke-linejoin="round"/>
<text x="485.6" y="45.5" font-size="8.1" text-anchor="start" font-weight="normal" font-style="normal" fill="#222" textLength="34.4" lengthAdjust="spacingAndGlyphs">CLL&#160;&#160;Pt 7</text>
<text x="335.8" y="151.4" font-size="11.5" text-anchor="start" font-weight="bold" font-style="normal" fill="#111" style="stroke:#111;stroke-width:0.45px">C</text>
<line x1="370" y1="161.2" x2="370" y2="258.85" stroke="#1c1c1c" stroke-width="1.4" />
<line x1="366.4" y1="258.25" x2="370" y2="258.25" stroke="#1c1c1c" stroke-width="1.2" />
<text x="363.6" y="261.25" font-size="8.4" text-anchor="end" font-weight="normal" font-style="normal" fill="#222" >0</text>
<line x1="366.4" y1="239.45" x2="370" y2="239.45" stroke="#1c1c1c" stroke-width="1.2" />
<text x="363.6" y="242.45" font-size="8.4" text-anchor="end" font-weight="normal" font-style="normal" fill="#222" >1</text>
<line x1="366.4" y1="220.65" x2="370" y2="220.65" stroke="#1c1c1c" stroke-width="1.2" />
<text x="363.6" y="223.65" font-size="8.4" text-anchor="end" font-weight="normal" font-style="normal" fill="#222" >2</text>
<line x1="366.4" y1="201.85" x2="370" y2="201.85" stroke="#1c1c1c" stroke-width="1.2" />
<text x="363.6" y="204.85" font-size="8.4" text-anchor="end" font-weight="normal" font-style="normal" fill="#222" >3</text>
<line x1="366.4" y1="183.05" x2="370" y2="183.05" stroke="#1c1c1c" stroke-width="1.2" />
<text x="363.6" y="186.05" font-size="8.4" text-anchor="end" font-weight="normal" font-style="normal" fill="#222" >4</text>
<line x1="366.4" y1="164.25" x2="370" y2="164.25" stroke="#1c1c1c" stroke-width="1.2" />
<text x="363.6" y="167.25" font-size="8.4" text-anchor="end" font-weight="normal" font-style="normal" fill="#222" >5</text>
<line x1="367" y1="258.25" x2="464.4" y2="258.25" stroke="#1c1c1c" stroke-width="1.4" />
<line x1="381.25" y1="258.25" x2="381.25" y2="261.84999999999997" stroke="#1c1c1c" stroke-width="1.2" />
<line x1="398" y1="258.25" x2="398" y2="261.84999999999997" stroke="#1c1c1c" stroke-width="1.2" />
<line x1="436.25" y1="258.25" x2="436.25" y2="261.84999999999997" stroke="#1c1c1c" stroke-width="1.2" />
<line x1="453.1" y1="258.25" x2="453.1" y2="261.84999999999997" stroke="#1c1c1c" stroke-width="1.2" />
<text transform="translate(383.85,267.25) rotate(-45) scale(1.0,1)" font-size="8.1" text-anchor="end" font-weight="normal" fill="#222">Resp</text>
<text transform="translate(400.6,267.25) rotate(-45) scale(1.0,1)" font-size="8.1" text-anchor="end" font-weight="normal" fill="#222">Prog</text>
<text transform="translate(438.85,267.25) rotate(-45) scale(1.0,1)" font-size="8.1" text-anchor="end" font-weight="normal" fill="#222">Resp</text>
<text transform="translate(455.70000000000005,267.25) rotate(-45) scale(1.0,1)" font-size="8.1" text-anchor="end" font-weight="normal" fill="#222">Prog</text>
<text transform="translate(353.9,210.6) rotate(-90)" font-size="8.6" text-anchor="middle" fill="#222" textLength="84" lengthAdjust="spacingAndGlyphs">phosphoprotein/total protein</text>
<text x="373.6" y="179.8" font-size="8.1" text-anchor="start" font-weight="normal" font-style="normal" fill="#222" textLength="40" lengthAdjust="spacingAndGlyphs">pERK/ERK</text>
<text x="427" y="179.5" font-size="8.1" text-anchor="start" font-weight="normal" font-style="normal" fill="#222" textLength="36.8" lengthAdjust="spacingAndGlyphs">pAKT/AKT</text>
<text x="373.6" y="199.8" font-size="8.1" fill="#222" textLength="37" lengthAdjust="spacingAndGlyphs"><tspan font-style="italic">P</tspan> = .0518</text>
<line x1="378.7" y1="200.9" x2="400" y2="200.9" stroke="#111" stroke-width="1.4" />
<line x1="433" y1="201.2" x2="453.2" y2="201.2" stroke="#111" stroke-width="1.4" />
<text x="443.2" y="199.6" font-size="7.4" text-anchor="middle" font-weight="normal" font-style="normal" fill="#222" letter-spacing="0.5">**</text>
<line x1="377.5" y1="250" x2="386.3" y2="250" stroke="#111" stroke-width="1.3" />
<polygon points="375.03,250 377.5,247.53 379.97,250 377.5,252.47" fill="#10284a" stroke="#0a1220" stroke-width="0.6" stroke-linejoin="round"/>
<polygon points="384.09,248.43 388.51,248.43 386.30,252.41" fill="#174a24" stroke="#0c1a10" stroke-width="0.7" stroke-linejoin="round"/>
<circle cx="381.8" cy="255" r="2.08" fill="#b0122b" stroke="#2a0a0e" stroke-width="0.8"/>
<line x1="398" y1="210.8" x2="398" y2="230.5" stroke="#111" stroke-width="1.3" />
<line x1="394.5" y1="230.5" x2="402" y2="230.5" stroke="#111" stroke-width="1.3" />
<polygon points="395.53,210.8 398,208.33 400.47,210.8 398,213.27" fill="#10284a" stroke="#0a1220" stroke-width="0.6" stroke-linejoin="round"/>
<circle cx="394.5" cy="231.2" r="2.08" fill="#b0122b" stroke="#2a0a0e" stroke-width="0.8"/>
<polygon points="399.79,228.03 404.21,228.03 402.00,232.01" fill="#174a24" stroke="#0c1a10" stroke-width="0.7" stroke-linejoin="round"/>
<line x1="432.5" y1="250.8" x2="441.8" y2="250.8" stroke="#111" stroke-width="1.3" />
<polygon points="430.39,250.23 434.81,250.23 432.60,254.21" fill="#174a24" stroke="#0c1a10" stroke-width="0.7" stroke-linejoin="round"/>
<polygon points="439.23,250.8 441.7,248.33 444.17,250.8 441.7,253.27" fill="#10284a" stroke="#0a1220" stroke-width="0.6" stroke-linejoin="round"/>
<circle cx="436.3" cy="249.3" r="2.08" fill="#b0122b" stroke="#2a0a0e" stroke-width="0.8"/>
<line x1="449.3" y1="235" x2="457.5" y2="235" stroke="#111" stroke-width="1.3" />
<polygon points="446.93,235 449.4,232.53 451.87,235 449.4,237.47" fill="#10284a" stroke="#0a1220" stroke-width="0.6" stroke-linejoin="round"/>
<polygon points="451.09,233.43 455.51,233.43 453.30,237.41" fill="#174a24" stroke="#0c1a10" stroke-width="0.7" stroke-linejoin="round"/>
<circle cx="457.6" cy="235" r="2.08" fill="#b0122b" stroke="#2a0a0e" stroke-width="0.8"/>
<line x1="472.3" y1="158.9" x2="480.7" y2="158.9" stroke="#34a04a" stroke-width="1" />
<polygon points="474.38,157.20 478.62,157.20 476.50,161.03" fill="#174a24" stroke="#0c1a10" stroke-width="0.7" stroke-linejoin="round"/>
<text x="485.2" y="161.70000000000002" font-size="8.1" text-anchor="start" font-weight="normal" font-style="normal" fill="#222" textLength="33.6" lengthAdjust="spacingAndGlyphs">CLL&#160;&#160;Pt 5</text>
<line x1="472.3" y1="171.7" x2="480.7" y2="171.7" stroke="#c4122f" stroke-width="1" />
<circle cx="476.5" cy="171.7" r="2.0" fill="#b0122b" stroke="#2a0a0e" stroke-width="0.8"/>
<text x="485.2" y="174.5" font-size="8.1" text-anchor="start" font-weight="normal" font-style="normal" fill="#222" textLength="33.6" lengthAdjust="spacingAndGlyphs">CLL&#160;&#160;Pt 6</text>
<line x1="472.3" y1="184.3" x2="480.7" y2="184.3" stroke="#2f5688" stroke-width="1" />
<polygon points="474.12,184.3 476.5,181.93 478.88,184.3 476.5,186.68" fill="#10284a" stroke="#0a1220" stroke-width="0.6" stroke-linejoin="round"/>
<text x="485.2" y="187.10000000000002" font-size="8.1" text-anchor="start" font-weight="normal" font-style="normal" fill="#222" textLength="33.6" lengthAdjust="spacingAndGlyphs">CLL&#160;&#160;Pt 7</text>
<text x="0.4" y="304.7" font-size="11.5" text-anchor="start" font-weight="bold" font-style="normal" fill="#111" style="stroke:#111;stroke-width:0.45px">D</text>
<line x1="49.5" y1="323" x2="49.5" y2="418.1" stroke="#1c1c1c" stroke-width="1.4" />
<line x1="45.9" y1="417.5" x2="49.5" y2="417.5" stroke="#1c1c1c" stroke-width="1.2" />
<text x="42.7" y="420.5" font-size="8.4" text-anchor="end" font-weight="normal" font-style="normal" fill="#222" >0</text>
<line x1="45.9" y1="386.8" x2="49.5" y2="386.8" stroke="#1c1c1c" stroke-width="1.2" />
<text x="42.7" y="389.8" font-size="8.4" text-anchor="end" font-weight="normal" font-style="normal" fill="#222" >500</text>
<line x1="45.9" y1="356.2" x2="49.5" y2="356.2" stroke="#1c1c1c" stroke-width="1.2" />
<text x="42.7" y="359.2" font-size="8.4" text-anchor="end" font-weight="normal" font-style="normal" fill="#222" >1000</text>
<line x1="45.9" y1="325.7" x2="49.5" y2="325.7" stroke="#1c1c1c" stroke-width="1.2" />
<text x="42.7" y="328.7" font-size="8.4" text-anchor="end" font-weight="normal" font-style="normal" fill="#222" >1500</text>
<line x1="46.5" y1="417.5" x2="140" y2="417.5" stroke="#1c1c1c" stroke-width="1.4" />
<line x1="64.5" y1="417.5" x2="64.5" y2="421.09999999999997" stroke="#1c1c1c" stroke-width="1.2" />
<line x1="94.7" y1="417.5" x2="94.7" y2="421.09999999999997" stroke="#1c1c1c" stroke-width="1.2" />
<line x1="125.4" y1="417.5" x2="125.4" y2="421.09999999999997" stroke="#1c1c1c" stroke-width="1.2" />
<text transform="translate(68.3,427.2) rotate(-45) scale(1.0,1)" font-size="8.1" text-anchor="end" font-weight="normal" fill="#222">Day 0</text>
<text transform="translate(98.5,427.2) rotate(-45) scale(1.0,1)" font-size="8.1" text-anchor="end" font-weight="normal" fill="#222">3 mo (resp)</text>
<text transform="translate(127.80000000000001,426.9) rotate(-45) scale(1.0,1)" font-size="8.1" text-anchor="end" font-weight="normal" fill="#222">Prog</text>
<text transform="translate(16.7,370) rotate(-90)" font-size="8.6" text-anchor="middle" fill="#222" textLength="37.5" lengthAdjust="spacingAndGlyphs">CCL3 pg/ml</text>
<polyline points="64.50,383.25 94.70,390.75 125.40,373.75" fill="none" stroke="#34a04a" stroke-width="1.1" stroke-linejoin="round"/>
<polyline points="64.50,395.75 94.70,404.50 125.40,377.00" fill="none" stroke="#2f5688" stroke-width="1.1" stroke-linejoin="round"/>
<polyline points="64.50,362.75 94.70,390.75 125.40,375.00" fill="none" stroke="#c4122f" stroke-width="1.1" stroke-linejoin="round"/>
<polygon points="62.12,395.75 64.5,393.38 66.88,395.75 64.5,398.12" fill="#10284a" stroke="#0a1220" stroke-width="0.6" stroke-linejoin="round"/>
<polygon points="92.33,404.5 94.7,402.12 97.08,404.5 94.7,406.88" fill="#10284a" stroke="#0a1220" stroke-width="0.6" stroke-linejoin="round"/>
<polygon points="123.03,377 125.4,374.62 127.78,377 125.4,379.38" fill="#10284a" stroke="#0a1220" stroke-width="0.6" stroke-linejoin="round"/>
<polygon points="62.38,381.55 66.62,381.55 64.50,385.38" fill="#174a24" stroke="#0c1a10" stroke-width="0.7" stroke-linejoin="round"/>
<polygon points="92.58,389.05 96.83,389.05 94.70,392.88" fill="#174a24" stroke="#0c1a10" stroke-width="0.7" stroke-linejoin="round"/>
<polygon points="123.28,372.05 127.53,372.05 125.40,375.88" fill="#174a24" stroke="#0c1a10" stroke-width="0.7" stroke-linejoin="round"/>
<circle cx="64.5" cy="362.75" r="2.0" fill="#b0122b" stroke="#2a0a0e" stroke-width="0.8"/>
<circle cx="94.7" cy="390.75" r="2.0" fill="#b0122b" stroke="#2a0a0e" stroke-width="0.8"/>
<circle cx="125.4" cy="375" r="2.0" fill="#b0122b" stroke="#2a0a0e" stroke-width="0.8"/>
<line x1="88.6" y1="315.8" x2="97.2" y2="315.8" stroke="#34a04a" stroke-width="1" />
<polygon points="91.20,314.44 94.60,314.44 92.90,317.50" fill="#174a24" stroke="#0c1a10" stroke-width="0.7" stroke-linejoin="round"/>
<text x="100.8" y="318.90000000000003" font-size="8.1" text-anchor="start" font-weight="normal" font-style="normal" fill="#222" textLength="34" lengthAdjust="spacingAndGlyphs">CLL&#160;&#160;Pt 5</text>
<line x1="88.6" y1="328.7" x2="97.2" y2="328.7" stroke="#c4122f" stroke-width="1" />
<circle cx="92.9" cy="328.7" r="1.6" fill="#b0122b" stroke="#2a0a0e" stroke-width="0.8"/>
<text x="100.8" y="331.8" font-size="8.1" text-anchor="start" font-weight="normal" font-style="normal" fill="#222" textLength="34" lengthAdjust="spacingAndGlyphs">CLL&#160;&#160;Pt 6</text>
<line x1="88.6" y1="341.3" x2="97.2" y2="341.3" stroke="#2f5688" stroke-width="1" />
<polygon points="91.00,341.3 92.9,339.40 94.80,341.3 92.9,343.20" fill="#10284a" stroke="#0a1220" stroke-width="0.6" stroke-linejoin="round"/>
<text x="100.8" y="344.40000000000003" font-size="8.1" text-anchor="start" font-weight="normal" font-style="normal" fill="#222" textLength="34" lengthAdjust="spacingAndGlyphs">CLL&#160;&#160;Pt 7</text>
<line x1="95" y1="358" x2="126.3" y2="358" stroke="#111" stroke-width="1.5" />
<text x="110.2" y="357.3" font-size="7.6" text-anchor="middle" font-weight="normal" font-style="normal" fill="#222" >*</text>
<text x="157.3" y="304.7" font-size="11.5" text-anchor="start" font-weight="bold" font-style="normal" fill="#111" style="stroke:#111;stroke-width:0.45px">E</text>
<line x1="205" y1="321.8" x2="205" y2="418.1" stroke="#1c1c1c" stroke-width="1.4" />
<line x1="201.4" y1="417.5" x2="205" y2="417.5" stroke="#1c1c1c" stroke-width="1.2" />
<text x="198.2" y="420.5" font-size="8.4" text-anchor="end" font-weight="normal" font-style="normal" fill="#222" >0</text>
<line x1="201.4" y1="386.3" x2="205" y2="386.3" stroke="#1c1c1c" stroke-width="1.2" />
<text x="198.2" y="389.3" font-size="8.4" text-anchor="end" font-weight="normal" font-style="normal" fill="#222" >500</text>
<line x1="201.4" y1="355.4" x2="205" y2="355.4" stroke="#1c1c1c" stroke-width="1.2" />
<text x="198.2" y="358.4" font-size="8.4" text-anchor="end" font-weight="normal" font-style="normal" fill="#222" >1000</text>
<line x1="201.4" y1="324.3" x2="205" y2="324.3" stroke="#1c1c1c" stroke-width="1.2" />
<text x="198.2" y="327.3" font-size="8.4" text-anchor="end" font-weight="normal" font-style="normal" fill="#222" >1500</text>
<line x1="201.5" y1="417.5" x2="297.5" y2="417.5" stroke="#1c1c1c" stroke-width="1.4" />
<line x1="220.75" y1="417.5" x2="220.75" y2="421.09999999999997" stroke="#1c1c1c" stroke-width="1.2" />
<line x1="251.1" y1="417.5" x2="251.1" y2="421.09999999999997" stroke="#1c1c1c" stroke-width="1.2" />
<line x1="282" y1="417.5" x2="282" y2="421.09999999999997" stroke="#1c1c1c" stroke-width="1.2" />
<text transform="translate(224.55,427.2) rotate(-45) scale(1.0,1)" font-size="8.1" text-anchor="end" font-weight="normal" fill="#222">Day 0</text>
<text transform="translate(254.9,427.2) rotate(-45) scale(1.0,1)" font-size="8.1" text-anchor="end" font-weight="normal" fill="#222">3 mo (resp)</text>
<text transform="translate(284.4,426.9) rotate(-45) scale(1.0,1)" font-size="8.1" text-anchor="end" font-weight="normal" fill="#222">Prog</text>
<text transform="translate(173.4,369.6) rotate(-90)" font-size="8.6" text-anchor="middle" fill="#222" textLength="40.8" lengthAdjust="spacingAndGlyphs">CCL4 (pg/ml)</text>
<polyline points="220.75,410.00 251.10,413.40 282.00,369.50" fill="none" stroke="#34a04a" stroke-width="1.1" stroke-linejoin="round"/>
<polyline points="220.75,408.00 251.10,407.70 282.00,385.00" fill="none" stroke="#2f5688" stroke-width="1.1" stroke-linejoin="round"/>
<polyline points="220.75,337.25 251.10,412.50 282.00,374.25" fill="none" stroke="#c4122f" stroke-width="1.1" stroke-linejoin="round"/>
<polygon points="218.38,408 220.75,405.62 223.12,408 220.75,410.38" fill="#10284a" stroke="#0a1220" stroke-width="0.6" stroke-linejoin="round"/>
<polygon points="248.72,407.7 251.1,405.32 253.47,407.7 251.1,410.07" fill="#10284a" stroke="#0a1220" stroke-width="0.6" stroke-linejoin="round"/>
<polygon points="279.62,385 282,382.62 284.38,385 282,387.38" fill="#10284a" stroke="#0a1220" stroke-width="0.6" stroke-linejoin="round"/>
<polygon points="218.62,408.30 222.88,408.30 220.75,412.12" fill="#174a24" stroke="#0c1a10" stroke-width="0.7" stroke-linejoin="round"/>
<polygon points="248.97,411.70 253.22,411.70 251.10,415.52" fill="#174a24" stroke="#0c1a10" stroke-width="0.7" stroke-linejoin="round"/>
<polygon points="279.88,367.80 284.12,367.80 282.00,371.62" fill="#174a24" stroke="#0c1a10" stroke-width="0.7" stroke-linejoin="round"/>
<circle cx="220.75" cy="337.25" r="2.0" fill="#b0122b" stroke="#2a0a0e" stroke-width="0.8"/>
<circle cx="251.1" cy="412.5" r="2.0" fill="#b0122b" stroke="#2a0a0e" stroke-width="0.8"/>
<circle cx="282" cy="374.25" r="2.0" fill="#b0122b" stroke="#2a0a0e" stroke-width="0.8"/>
<line x1="261.2" y1="315.8" x2="270.8" y2="315.8" stroke="#34a04a" stroke-width="1" />
<polygon points="264.30,314.44 267.70,314.44 266.00,317.50" fill="#174a24" stroke="#0c1a10" stroke-width="0.7" stroke-linejoin="round"/>
<text x="273.8" y="318.90000000000003" font-size="8.1" text-anchor="start" font-weight="normal" font-style="normal" fill="#222" textLength="34" lengthAdjust="spacingAndGlyphs">CLL&#160;&#160;Pt 5</text>
<line x1="261.2" y1="328.3" x2="270.8" y2="328.3" stroke="#c4122f" stroke-width="1" />
<circle cx="266.0" cy="328.3" r="1.6" fill="#b0122b" stroke="#2a0a0e" stroke-width="0.8"/>
<text x="273.8" y="331.40000000000003" font-size="8.1" text-anchor="start" font-weight="normal" font-style="normal" fill="#222" textLength="34" lengthAdjust="spacingAndGlyphs">CLL&#160;&#160;Pt 6</text>
<line x1="261.2" y1="341.3" x2="270.8" y2="341.3" stroke="#2f5688" stroke-width="1" />
<polygon points="264.10,341.3 266.0,339.40 267.90,341.3 266.0,343.20" fill="#10284a" stroke="#0a1220" stroke-width="0.6" stroke-linejoin="round"/>
<text x="273.8" y="344.40000000000003" font-size="8.1" text-anchor="start" font-weight="normal" font-style="normal" fill="#222" textLength="34" lengthAdjust="spacingAndGlyphs">CLL&#160;&#160;Pt 7</text>
<line x1="251.3" y1="357.6" x2="282.6" y2="357.6" stroke="#111" stroke-width="1.3" />
<text x="267.5" y="356.8" font-size="7.6" text-anchor="middle" font-weight="normal" font-style="normal" fill="#222" >*</text>
<text x="324.3" y="304.7" font-size="11.5" text-anchor="start" font-weight="bold" font-style="normal" fill="#111" style="stroke:#111;stroke-width:0.45px">F</text>
<line x1="377.5" y1="337.5" x2="377.5" y2="418.1" stroke="#1c1c1c" stroke-width="1.4" />
<line x1="373.9" y1="417.5" x2="377.5" y2="417.5" stroke="#1c1c1c" stroke-width="1.2" />
<text x="371.3" y="420.5" font-size="8.4" text-anchor="end" font-weight="normal" font-style="normal" fill="#222" >0</text>
<line x1="373.9" y1="379.25" x2="377.5" y2="379.25" stroke="#1c1c1c" stroke-width="1.2" />
<text x="371.3" y="382.25" font-size="8.4" text-anchor="end" font-weight="normal" font-style="normal" fill="#222" >50</text>
<line x1="373.9" y1="340.75" x2="377.5" y2="340.75" stroke="#1c1c1c" stroke-width="1.2" />
<text x="371.3" y="343.75" font-size="8.4" text-anchor="end" font-weight="normal" font-style="normal" fill="#222" >100</text>
<line x1="374.5" y1="417.5" x2="494.8" y2="417.5" stroke="#1c1c1c" stroke-width="1.1" />
<line x1="386.25" y1="417.5" x2="386.25" y2="420.7" stroke="#1c1c1c" stroke-width="1.0" />
<line x1="399.0437748157192" y1="417.5" x2="399.0437748157192" y2="419.3" stroke="#1c1c1c" stroke-width="0.7" />
<line x1="406.5276533255857" y1="417.5" x2="406.5276533255857" y2="419.3" stroke="#1c1c1c" stroke-width="0.7" />
<line x1="411.8375496314384" y1="417.5" x2="411.8375496314384" y2="419.3" stroke="#1c1c1c" stroke-width="0.7" />
<line x1="415.9562251842808" y1="417.5" x2="415.9562251842808" y2="419.3" stroke="#1c1c1c" stroke-width="0.7" />
<line x1="419.32142814130486" y1="417.5" x2="419.32142814130486" y2="419.3" stroke="#1c1c1c" stroke-width="0.7" />
<line x1="422.1666667006059" y1="417.5" x2="422.1666667006059" y2="419.3" stroke="#1c1c1c" stroke-width="0.7" />
<line x1="424.6313244471576" y1="417.5" x2="424.6313244471576" y2="419.3" stroke="#1c1c1c" stroke-width="0.7" />
<line x1="426.8053066511713" y1="417.5" x2="426.8053066511713" y2="419.3" stroke="#1c1c1c" stroke-width="0.7" />
<line x1="428.75" y1="417.5" x2="428.75" y2="420.7" stroke="#1c1c1c" stroke-width="1.0" />
<line x1="441.5437748157192" y1="417.5" x2="441.5437748157192" y2="419.3" stroke="#1c1c1c" stroke-width="0.7" />
<line x1="449.0276533255857" y1="417.5" x2="449.0276533255857" y2="419.3" stroke="#1c1c1c" stroke-width="0.7" />
<line x1="454.3375496314384" y1="417.5" x2="454.3375496314384" y2="419.3" stroke="#1c1c1c" stroke-width="0.7" />
<line x1="458.4562251842808" y1="417.5" x2="458.4562251842808" y2="419.3" stroke="#1c1c1c" stroke-width="0.7" />
<line x1="461.82142814130486" y1="417.5" x2="461.82142814130486" y2="419.3" stroke="#1c1c1c" stroke-width="0.7" />
<line x1="464.6666667006059" y1="417.5" x2="464.6666667006059" y2="419.3" stroke="#1c1c1c" stroke-width="0.7" />
<line x1="467.13132444715757" y1="417.5" x2="467.13132444715757" y2="419.3" stroke="#1c1c1c" stroke-width="0.7" />
<line x1="469.3053066511713" y1="417.5" x2="469.3053066511713" y2="419.3" stroke="#1c1c1c" stroke-width="0.7" />
<line x1="471.25" y1="417.5" x2="471.25" y2="420.7" stroke="#1c1c1c" stroke-width="1.0" />
<line x1="484.0437748157192" y1="417.5" x2="484.0437748157192" y2="419.3" stroke="#1c1c1c" stroke-width="0.7" />
<line x1="491.5276533255857" y1="417.5" x2="491.5276533255857" y2="419.3" stroke="#1c1c1c" stroke-width="0.7" />
<text x="385.95" y="431.0" font-size="8.1" text-anchor="middle" font-weight="normal" font-style="normal" fill="#222" >0.01</text>
<text x="428.45" y="431.0" font-size="8.1" text-anchor="middle" font-weight="normal" font-style="normal" fill="#222" >0.1</text>
<text x="471.75" y="428.3" font-size="8.1" text-anchor="middle" font-weight="normal" font-style="normal" fill="#222" >1</text>
<text x="425.8" y="443.8" font-size="8.6" text-anchor="middle" fill="#222" textLength="32.5" lengthAdjust="spacingAndGlyphs">Pirto (&#181;M)</text>
<text transform="translate(340.09999999999997,377.6) rotate(-90)" font-size="8.6" text-anchor="middle" fill="#222" textLength="32.6" lengthAdjust="spacingAndGlyphs">Viability %</text>
<text transform="translate(350.4,377.5) rotate(-90)" font-size="8.6" text-anchor="middle" fill="#222" textLength="52.5" lengthAdjust="spacingAndGlyphs">(norm. to DMSO)</text>
<text x="424.5" y="320.9" font-size="8.1" text-anchor="start" font-weight="normal" font-style="normal" fill="#222" textLength="20.2" lengthAdjust="spacingAndGlyphs">N = 3</text>
<text x="382.5" y="410.4" font-size="8.1" fill="#222" textLength="73" lengthAdjust="spacingAndGlyphs">IC<tspan font-size="5.6" dy="1.6">50</tspan><tspan dy="-1.6">: 0.4 &#177; 0.09 &#181;M</tspan></text>
<path d="M386.25,340.75 C387.88,340.81 392.46,340.69 396.00,341.10 C399.54,341.51 403.50,342.02 407.50,343.20 C411.50,344.38 415.75,345.97 420.00,348.20 C424.25,350.43 428.73,352.77 433.00,356.60 C437.27,360.43 441.38,366.80 445.60,371.20 C449.82,375.60 454.03,379.60 458.30,383.00 C462.57,386.40 466.93,389.10 471.25,391.60 C475.57,394.10 482.08,396.93 484.25,398.00" fill="none" stroke="#1f4f7f" stroke-width="1.1"/>
<path d="M386.25,340.75 C388.54,340.77 395.71,340.76 400.00,340.90 C404.29,341.04 408.33,341.27 412.00,341.60 C415.67,341.93 418.50,342.30 422.00,342.90 C425.50,343.50 429.07,344.07 433.00,345.20 C436.93,346.33 441.38,348.18 445.60,349.70 C449.82,351.22 454.03,353.18 458.30,354.30 C462.57,355.42 466.93,355.93 471.25,356.40 C475.57,356.87 482.08,356.98 484.25,357.10" fill="none" stroke="#c41846" stroke-width="1.1"/>
<line x1="433" y1="348.25" x2="433" y2="363.25" stroke="#14202c" stroke-width="1.2" />
<line x1="431.3" y1="348.25" x2="434.7" y2="348.25" stroke="#14202c" stroke-width="1.2" />
<line x1="431.3" y1="363.25" x2="434.7" y2="363.25" stroke="#14202c" stroke-width="1.2" />
<line x1="445.6" y1="366.25" x2="445.6" y2="378.25" stroke="#14202c" stroke-width="1.2" />
<line x1="443.90000000000003" y1="366.25" x2="447.3" y2="366.25" stroke="#14202c" stroke-width="1.2" />
<line x1="443.90000000000003" y1="378.25" x2="447.3" y2="378.25" stroke="#14202c" stroke-width="1.2" />
<line x1="458.3" y1="378.25" x2="458.3" y2="388.25" stroke="#14202c" stroke-width="1.2" />
<line x1="456.6" y1="378.25" x2="460.0" y2="378.25" stroke="#14202c" stroke-width="1.2" />
<line x1="456.6" y1="388.25" x2="460.0" y2="388.25" stroke="#14202c" stroke-width="1.2" />
<line x1="471.25" y1="386.75" x2="471.25" y2="395.5" stroke="#14202c" stroke-width="1.2" />
<line x1="469.55" y1="386.75" x2="472.95" y2="386.75" stroke="#14202c" stroke-width="1.2" />
<line x1="469.55" y1="395.5" x2="472.95" y2="395.5" stroke="#14202c" stroke-width="1.2" />
<line x1="484.25" y1="395.75" x2="484.25" y2="400.75" stroke="#14202c" stroke-width="1.2" />
<line x1="482.55" y1="395.75" x2="485.95" y2="395.75" stroke="#14202c" stroke-width="1.2" />
<line x1="482.55" y1="400.75" x2="485.95" y2="400.75" stroke="#14202c" stroke-width="1.2" />
<line x1="433" y1="340.75" x2="433" y2="350" stroke="#2c0c12" stroke-width="1.2" />
<line x1="431.3" y1="340.75" x2="434.7" y2="340.75" stroke="#2c0c12" stroke-width="1.2" />
<line x1="431.3" y1="350" x2="434.7" y2="350" stroke="#2c0c12" stroke-width="1.2" />
<line x1="445.6" y1="345" x2="445.6" y2="353.75" stroke="#2c0c12" stroke-width="1.2" />
<line x1="443.90000000000003" y1="345" x2="447.3" y2="345" stroke="#2c0c12" stroke-width="1.2" />
<line x1="443.90000000000003" y1="353.75" x2="447.3" y2="353.75" stroke="#2c0c12" stroke-width="1.2" />
<line x1="458.3" y1="350" x2="458.3" y2="360" stroke="#2c0c12" stroke-width="1.2" />
<line x1="456.6" y1="350" x2="460.0" y2="350" stroke="#2c0c12" stroke-width="1.2" />
<line x1="456.6" y1="360" x2="460.0" y2="360" stroke="#2c0c12" stroke-width="1.2" />
<line x1="471.25" y1="350.75" x2="471.25" y2="361.75" stroke="#2c0c12" stroke-width="1.2" />
<line x1="469.55" y1="350.75" x2="472.95" y2="350.75" stroke="#2c0c12" stroke-width="1.2" />
<line x1="469.55" y1="361.75" x2="472.95" y2="361.75" stroke="#2c0c12" stroke-width="1.2" />
<line x1="484.25" y1="350.75" x2="484.25" y2="363.25" stroke="#2c0c12" stroke-width="1.2" />
<line x1="482.55" y1="350.75" x2="485.95" y2="350.75" stroke="#2c0c12" stroke-width="1.2" />
<line x1="482.55" y1="363.25" x2="485.95" y2="363.25" stroke="#2c0c12" stroke-width="1.2" />
<circle cx="433" cy="356.25" r="1.8" fill="#173a5e" stroke="#0d1a2a" stroke-width="0.7"/>
<circle cx="445.6" cy="371.75" r="1.8" fill="#173a5e" stroke="#0d1a2a" stroke-width="0.7"/>
<circle cx="458.3" cy="383.25" r="1.8" fill="#173a5e" stroke="#0d1a2a" stroke-width="0.7"/>
<circle cx="471.25" cy="391.25" r="1.8" fill="#173a5e" stroke="#0d1a2a" stroke-width="0.7"/>
<circle cx="484.25" cy="398.25" r="1.8" fill="#173a5e" stroke="#0d1a2a" stroke-width="0.7"/>
<rect x="431.25" y="343.25" width="3.5" height="3.5" fill="#c41846" stroke="#3a0a14" stroke-width="0.8"/>
<rect x="443.85" y="347.75" width="3.5" height="3.5" fill="#c41846" stroke="#3a0a14" stroke-width="0.8"/>
<rect x="456.55" y="353.25" width="3.5" height="3.5" fill="#c41846" stroke="#3a0a14" stroke-width="0.8"/>
<rect x="469.5" y="354.5" width="3.5" height="3.5" fill="#c41846" stroke="#3a0a14" stroke-width="0.8"/>
<rect x="482.5" y="355.25" width="3.5" height="3.5" fill="#c41846" stroke="#3a0a14" stroke-width="0.8"/>
<rect x="384.5" y="339.0" width="3.5" height="3.5" fill="#1a2540" stroke="#111" stroke-width="0.5"/>
<text x="445.6" y="343.6" font-size="7.2" text-anchor="middle" font-weight="normal" font-style="normal" fill="#222" letter-spacing="0.9">*</text>
<text x="458.3" y="346.6" font-size="7.2" text-anchor="middle" font-weight="normal" font-style="normal" fill="#222" letter-spacing="0.9">**</text>
<text x="471.3" y="347.4" font-size="7.2" text-anchor="middle" font-weight="normal" font-style="normal" fill="#222" letter-spacing="0.9">***</text>
<text x="484.4" y="349.1" font-size="7.2" text-anchor="middle" font-weight="normal" font-style="normal" fill="#222" letter-spacing="0.9">***</text>
<line x1="468.7" y1="320" x2="478.8" y2="320" stroke="#1f4f7f" stroke-width="1.1" />
<circle cx="473.75" cy="320" r="1.8" fill="#173a5e" stroke="#0d1a2a" stroke-width="0.7"/>
<line x1="468.7" y1="332.5" x2="478.8" y2="332.5" stroke="#c41846" stroke-width="1.1" />
<rect x="472.0" y="330.75" width="3.5" height="3.5" fill="#c41846" stroke="#3a0a14" stroke-width="0.8"/>
<text x="481.3" y="322.9" font-size="8.1" text-anchor="start" font-weight="normal" font-style="normal" fill="#222" textLength="18" lengthAdjust="spacingAndGlyphs">Resp</text>
<text x="481.3" y="335.4" font-size="8.1" text-anchor="start" font-weight="normal" font-style="normal" fill="#222" textLength="17" lengthAdjust="spacingAndGlyphs">Prog</text>
<text x="3.6" y="484.1" font-size="11.5" text-anchor="start" font-weight="bold" font-style="normal" fill="#111" style="stroke:#111;stroke-width:0.45px">G</text>
<text x="94.4" y="501.2" font-size="8.1" text-anchor="middle" font-weight="normal" font-style="normal" fill="#222" textLength="31.3" lengthAdjust="spacingAndGlyphs">CLL Pt 6</text>
<line x1="65.4" y1="520" x2="65.4" y2="528.0" stroke="#1a1a1a" stroke-width="1.2" />
<line x1="62.60000000000001" y1="520" x2="68.2" y2="520" stroke="#1a1a1a" stroke-width="1.3" />
<rect x="59.5" y="527.5" width="11.80" height="76.25" fill="#1d4f8d" stroke="#163c6c" stroke-width="0.7"/>
<line x1="80.0" y1="534.2" x2="80.0" y2="537.5" stroke="#1a1a1a" stroke-width="1.2" />
<line x1="77.2" y1="534.2" x2="82.8" y2="534.2" stroke="#1a1a1a" stroke-width="1.3" />
<rect x="74.2" y="537" width="11.60" height="66.75" fill="#1d4f8d" stroke="#163c6c" stroke-width="0.7"/>
<line x1="94.65" y1="553.2" x2="94.65" y2="555.5" stroke="#1a1a1a" stroke-width="1.2" />
<line x1="91.85000000000001" y1="553.2" x2="97.45" y2="553.2" stroke="#1a1a1a" stroke-width="1.3" />
<rect x="88.8" y="555" width="11.70" height="48.75" fill="#c8102e" stroke="#a00c26" stroke-width="0.7"/>
<line x1="109.1" y1="554.5" x2="109.1" y2="558.5" stroke="#1a1a1a" stroke-width="1.2" />
<line x1="106.3" y1="554.5" x2="111.89999999999999" y2="554.5" stroke="#1a1a1a" stroke-width="1.3" />
<rect x="103.2" y="558" width="11.80" height="45.75" fill="#c8102e" stroke="#a00c26" stroke-width="0.7"/>
<line x1="52" y1="514.5" x2="52" y2="604.35" stroke="#1c1c1c" stroke-width="1.4" />
<line x1="48.4" y1="603.75" x2="52" y2="603.75" stroke="#1c1c1c" stroke-width="1.2" />
<text x="46.2" y="606.75" font-size="8.4" text-anchor="end" font-weight="normal" font-style="normal" fill="#222" >0.0</text>
<line x1="48.4" y1="581.8" x2="52" y2="581.8" stroke="#1c1c1c" stroke-width="1.2" />
<text x="46.2" y="584.8" font-size="8.4" text-anchor="end" font-weight="normal" font-style="normal" fill="#222" >0.5</text>
<line x1="48.4" y1="560" x2="52" y2="560" stroke="#1c1c1c" stroke-width="1.2" />
<text x="46.2" y="563.0" font-size="8.4" text-anchor="end" font-weight="normal" font-style="normal" fill="#222" >1.0</text>
<line x1="48.4" y1="538.3" x2="52" y2="538.3" stroke="#1c1c1c" stroke-width="1.2" />
<text x="46.2" y="541.3" font-size="8.4" text-anchor="end" font-weight="normal" font-style="normal" fill="#222" >1.5</text>
<line x1="48.4" y1="516.7" x2="52" y2="516.7" stroke="#1c1c1c" stroke-width="1.2" />
<text x="46.2" y="519.7" font-size="8.4" text-anchor="end" font-weight="normal" font-style="normal" fill="#222" >2.0</text>
<line x1="49" y1="603.75" x2="121.8" y2="603.75" stroke="#1c1c1c" stroke-width="1.4" />
<line x1="65.2" y1="603.75" x2="65.2" y2="607.35" stroke="#1c1c1c" stroke-width="1.2" />
<line x1="80" y1="603.75" x2="80" y2="607.35" stroke="#1c1c1c" stroke-width="1.2" />
<line x1="94.6" y1="603.75" x2="94.6" y2="607.35" stroke="#1c1c1c" stroke-width="1.2" />
<line x1="109.2" y1="603.75" x2="109.2" y2="607.35" stroke="#1c1c1c" stroke-width="1.2" />
<text transform="translate(69.60000000000001,614.15) rotate(-45) scale(1.0,1)" font-size="8.2" text-anchor="end" font-weight="normal" fill="#222">Day 0</text>
<text transform="translate(84.4,614.15) rotate(-45) scale(1.0,1)" font-size="8.2" text-anchor="end" font-weight="normal" fill="#222">3 mo (resp)</text>
<text transform="translate(99.0,614.15) rotate(-45) scale(1.0,1)" font-size="8.2" text-anchor="end" font-weight="normal" fill="#222">9 mo (prog)</text>
<text transform="translate(113.60000000000001,614.15) rotate(-45) scale(1.0,1)" font-size="8.2" text-anchor="end" font-weight="normal" fill="#222">13 mo (prog)</text>
<text transform="translate(17.5,561.2) rotate(-90)" font-size="8.4" text-anchor="middle" fill="#222" textLength="41" lengthAdjust="spacingAndGlyphs">Annexin V +</text>
<text transform="translate(28.299999999999997,559) rotate(-90)" font-size="8.4" text-anchor="middle" fill="#222" textLength="71.8" lengthAdjust="spacingAndGlyphs">(Fold change vs DMSO)</text>
<text x="131.6" y="484.1" font-size="11.5" text-anchor="start" font-weight="bold" font-style="normal" fill="#111" style="stroke:#111;stroke-width:0.45px">H</text>
<text x="228.8" y="501.2" font-size="8.1" text-anchor="middle" font-weight="normal" font-style="normal" fill="#222" textLength="31.3" lengthAdjust="spacingAndGlyphs">CLL Pt 7</text>
<rect x="180.6" y="563.4" width="11.40" height="40.35" fill="#1d4f8d" stroke="#163c6c" stroke-width="0.7"/>
<line x1="203.89999999999998" y1="531.4" x2="203.89999999999998" y2="535.9" stroke="#1a1a1a" stroke-width="1.2" />
<line x1="201.09999999999997" y1="531.4" x2="206.7" y2="531.4" stroke="#1a1a1a" stroke-width="1.3" />
<rect x="198.1" y="535.4" width="11.60" height="68.35" fill="#1d4f8d" stroke="#163c6c" stroke-width="0.7"/>
<line x1="221.5" y1="522.5" x2="221.5" y2="527.9" stroke="#1a1a1a" stroke-width="1.2" />
<line x1="218.7" y1="522.5" x2="224.3" y2="522.5" stroke="#1a1a1a" stroke-width="1.3" />
<rect x="215.7" y="527.4" width="11.60" height="76.35" fill="#1d4f8d" stroke="#163c6c" stroke-width="0.7"/>
<line x1="239.0" y1="545.4" x2="239.0" y2="551.8" stroke="#1a1a1a" stroke-width="1.2" />
<line x1="236.2" y1="545.4" x2="241.8" y2="545.4" stroke="#1a1a1a" stroke-width="1.3" />
<rect x="233.2" y="551.3" width="11.60" height="52.45" fill="#c8102e" stroke="#a00c26" stroke-width="0.7"/>
<line x1="256.70000000000005" y1="549.4" x2="256.70000000000005" y2="555.3" stroke="#1a1a1a" stroke-width="1.2" />
<line x1="253.90000000000003" y1="549.4" x2="259.50000000000006" y2="549.4" stroke="#1a1a1a" stroke-width="1.3" />
<rect x="250.8" y="554.8" width="11.80" height="48.95" fill="#c8102e" stroke="#a00c26" stroke-width="0.7"/>
<line x1="174.3" y1="506.3" x2="174.3" y2="604.35" stroke="#1c1c1c" stroke-width="1.4" />
<line x1="170.70000000000002" y1="603.75" x2="174.3" y2="603.75" stroke="#1c1c1c" stroke-width="1.2" />
<text x="168.10000000000002" y="606.75" font-size="8.4" text-anchor="end" font-weight="normal" font-style="normal" fill="#222" >0</text>
<line x1="170.70000000000002" y1="572.4" x2="174.3" y2="572.4" stroke="#1c1c1c" stroke-width="1.2" />
<text x="168.10000000000002" y="575.4" font-size="8.4" text-anchor="end" font-weight="normal" font-style="normal" fill="#222" >1</text>
<line x1="170.70000000000002" y1="541" x2="174.3" y2="541" stroke="#1c1c1c" stroke-width="1.2" />
<text x="168.10000000000002" y="544.0" font-size="8.4" text-anchor="end" font-weight="normal" font-style="normal" fill="#222" >2</text>
<line x1="170.70000000000002" y1="509.6" x2="174.3" y2="509.6" stroke="#1c1c1c" stroke-width="1.2" />
<text x="168.10000000000002" y="512.6" font-size="8.4" text-anchor="end" font-weight="normal" font-style="normal" fill="#222" >3</text>
<line x1="171.3" y1="603.75" x2="265" y2="603.75" stroke="#1c1c1c" stroke-width="1.4" />
<line x1="186.3" y1="603.75" x2="186.3" y2="607.35" stroke="#1c1c1c" stroke-width="1.2" />
<line x1="203.8" y1="603.75" x2="203.8" y2="607.35" stroke="#1c1c1c" stroke-width="1.2" />
<line x1="221.4" y1="603.75" x2="221.4" y2="607.35" stroke="#1c1c1c" stroke-width="1.2" />
<line x1="238.9" y1="603.75" x2="238.9" y2="607.35" stroke="#1c1c1c" stroke-width="1.2" />
<line x1="256.7" y1="603.75" x2="256.7" y2="607.35" stroke="#1c1c1c" stroke-width="1.2" />
<text transform="translate(190.70000000000002,614.15) rotate(-45) scale(1.0,1)" font-size="8.2" text-anchor="end" font-weight="normal" fill="#222">Day 0</text>
<text transform="translate(208.20000000000002,614.15) rotate(-45) scale(1.0,1)" font-size="8.2" text-anchor="end" font-weight="normal" fill="#222">2 mo (resp)</text>
<text transform="translate(225.8,614.15) rotate(-45) scale(1.0,1)" font-size="8.2" text-anchor="end" font-weight="normal" fill="#222">3 mo (resp)</text>
<text transform="translate(243.3,614.15) rotate(-45) scale(1.0,1)" font-size="8.2" text-anchor="end" font-weight="normal" fill="#222">8 mo (prog)</text>
<text transform="translate(260.09999999999997,614.15) rotate(-45) scale(1.0,1)" font-size="8.2" text-anchor="end" font-weight="normal" fill="#222">8.5 mo (prog)</text>
<text transform="translate(145.6,553.8) rotate(-90)" font-size="8.4" text-anchor="middle" fill="#222" textLength="39.4" lengthAdjust="spacingAndGlyphs">Annexin V +</text>
<text transform="translate(156.0,555.2) rotate(-90)" font-size="8.4" text-anchor="middle" fill="#222" textLength="72.6" lengthAdjust="spacingAndGlyphs">(Fold change vs DMSO)</text>
<text x="278.3" y="484.1" font-size="11.5" text-anchor="start" font-weight="bold" font-style="normal" fill="#111" style="stroke:#111;stroke-width:0.45px">I</text>
<text x="349.6" y="501.2" font-size="8.1" text-anchor="middle" font-weight="normal" font-style="normal" fill="#222" textLength="31.3" lengthAdjust="spacingAndGlyphs">CLL Pt 6</text>
<line x1="320.7" y1="538.1" x2="320.7" y2="540.5" stroke="#1a1a1a" stroke-width="1.2" />
<line x1="317.9" y1="538.1" x2="323.5" y2="538.1" stroke="#1a1a1a" stroke-width="1.3" />
<rect x="315" y="540" width="11.40" height="63.75" fill="#1d4f8d" stroke="#163c6c" stroke-width="0.7"/>
<line x1="335.04999999999995" y1="531.9" x2="335.04999999999995" y2="539.2" stroke="#1a1a1a" stroke-width="1.2" />
<line x1="332.24999999999994" y1="531.9" x2="337.84999999999997" y2="531.9" stroke="#1a1a1a" stroke-width="1.3" />
<rect x="329.2" y="538.7" width="11.70" height="65.05" fill="#1d4f8d" stroke="#163c6c" stroke-width="0.7"/>
<line x1="349.65" y1="599.2" x2="349.65" y2="601.7" stroke="#1a1a1a" stroke-width="1.2" />
<line x1="346.84999999999997" y1="599.2" x2="352.45" y2="599.2" stroke="#1a1a1a" stroke-width="1.3" />
<rect x="343.8" y="601.2" width="11.70" height="2.55" fill="#c8102e" stroke="#a00c26" stroke-width="0.7"/>
<rect x="358" y="590.7" width="12.00" height="13.05" fill="#c8102e" stroke="#a00c26" stroke-width="0.7"/>
<line x1="308.9" y1="511.2" x2="308.9" y2="604.35" stroke="#1c1c1c" stroke-width="1.4" />
<line x1="305.29999999999995" y1="603.75" x2="308.9" y2="603.75" stroke="#1c1c1c" stroke-width="1.2" />
<text x="302.7" y="606.75" font-size="8.4" text-anchor="end" font-weight="normal" font-style="normal" fill="#222" >0</text>
<line x1="305.29999999999995" y1="581.3" x2="308.9" y2="581.3" stroke="#1c1c1c" stroke-width="1.2" />
<text x="302.7" y="584.3" font-size="8.4" text-anchor="end" font-weight="normal" font-style="normal" fill="#222" >5</text>
<line x1="305.29999999999995" y1="558.9" x2="308.9" y2="558.9" stroke="#1c1c1c" stroke-width="1.2" />
<text x="302.7" y="561.9" font-size="8.4" text-anchor="end" font-weight="normal" font-style="normal" fill="#222" >10</text>
<line x1="305.29999999999995" y1="536.4" x2="308.9" y2="536.4" stroke="#1c1c1c" stroke-width="1.2" />
<text x="302.7" y="539.4" font-size="8.4" text-anchor="end" font-weight="normal" font-style="normal" fill="#222" >15</text>
<line x1="305.29999999999995" y1="513.9" x2="308.9" y2="513.9" stroke="#1c1c1c" stroke-width="1.2" />
<text x="302.7" y="516.9" font-size="8.4" text-anchor="end" font-weight="normal" font-style="normal" fill="#222" >20</text>
<line x1="305.8" y1="603.75" x2="376.2" y2="603.75" stroke="#1c1c1c" stroke-width="1.4" />
<line x1="320.8" y1="603.75" x2="320.8" y2="607.35" stroke="#1c1c1c" stroke-width="1.2" />
<line x1="335.1" y1="603.75" x2="335.1" y2="607.35" stroke="#1c1c1c" stroke-width="1.2" />
<line x1="349.6" y1="603.75" x2="349.6" y2="607.35" stroke="#1c1c1c" stroke-width="1.2" />
<line x1="364.2" y1="603.75" x2="364.2" y2="607.35" stroke="#1c1c1c" stroke-width="1.2" />
<text transform="translate(325.2,614.15) rotate(-45) scale(1.0,1)" font-size="8.2" text-anchor="end" font-weight="normal" fill="#222">Day 0</text>
<text transform="translate(339.5,614.15) rotate(-45) scale(1.0,1)" font-size="8.2" text-anchor="end" font-weight="normal" fill="#222">3 mo (resp)</text>
<text transform="translate(354.0,614.15) rotate(-45) scale(1.0,1)" font-size="8.2" text-anchor="end" font-weight="normal" fill="#222">9 mo (prog)</text>
<text transform="translate(368.59999999999997,614.15) rotate(-45) scale(1.0,1)" font-size="8.2" text-anchor="end" font-weight="normal" fill="#222">13 mo (prog)</text>
<text transform="translate(287.59999999999997,557.3) rotate(-90)" font-size="8.4" text-anchor="middle" fill="#222" textLength="75.4" lengthAdjust="spacingAndGlyphs">% proliferation inhibition</text>
<text x="385.8" y="484.1" font-size="11.5" text-anchor="start" font-weight="bold" font-style="normal" fill="#111" style="stroke:#111;stroke-width:0.45px" textLength="4.4" lengthAdjust="spacingAndGlyphs">J</text>
<text x="466.9" y="501.2" font-size="8.1" text-anchor="middle" font-weight="normal" font-style="normal" fill="#222" textLength="31.3" lengthAdjust="spacingAndGlyphs">CLL Pt 7</text>
<rect x="424.3" y="524.4" width="12.40" height="79.35" fill="#1d4f8d" stroke="#163c6c" stroke-width="0.7"/>
<line x1="449.15" y1="557" x2="449.15" y2="564.7" stroke="#1a1a1a" stroke-width="1.2" />
<line x1="446.34999999999997" y1="557" x2="451.95" y2="557" stroke="#1a1a1a" stroke-width="1.3" />
<rect x="443.1" y="564.2" width="12.10" height="39.55" fill="#1d4f8d" stroke="#163c6c" stroke-width="0.7"/>
<line x1="468.0" y1="557" x2="468.0" y2="568.0" stroke="#1a1a1a" stroke-width="1.2" />
<line x1="465.2" y1="557" x2="470.8" y2="557" stroke="#1a1a1a" stroke-width="1.3" />
<rect x="462" y="567.5" width="12.00" height="36.25" fill="#1d4f8d" stroke="#163c6c" stroke-width="0.7"/>
<line x1="486.75" y1="589" x2="486.75" y2="590.9" stroke="#1a1a1a" stroke-width="1.2" />
<line x1="483.95" y1="589" x2="489.55" y2="589" stroke="#1a1a1a" stroke-width="1.3" />
<rect x="480.7" y="590.4" width="12.10" height="13.35" fill="#c8102e" stroke="#a00c26" stroke-width="0.7"/>
<line x1="505.45000000000005" y1="597" x2="505.45000000000005" y2="601.1" stroke="#1a1a1a" stroke-width="1.2" />
<line x1="502.65000000000003" y1="597" x2="508.25000000000006" y2="597" stroke="#1a1a1a" stroke-width="1.3" />
<rect x="499.3" y="600.6" width="12.30" height="3.15" fill="#c8102e" stroke="#a00c26" stroke-width="0.7"/>
<line x1="417.7" y1="501" x2="417.7" y2="604.35" stroke="#1c1c1c" stroke-width="1.4" />
<line x1="414.09999999999997" y1="603.75" x2="417.7" y2="603.75" stroke="#1c1c1c" stroke-width="1.2" />
<text x="410.9" y="606.75" font-size="8.4" text-anchor="end" font-weight="normal" font-style="normal" fill="#222" >0</text>
<line x1="414.09999999999997" y1="570.5" x2="417.7" y2="570.5" stroke="#1c1c1c" stroke-width="1.2" />
<text x="410.9" y="573.5" font-size="8.4" text-anchor="end" font-weight="normal" font-style="normal" fill="#222" >5</text>
<line x1="414.09999999999997" y1="537.3" x2="417.7" y2="537.3" stroke="#1c1c1c" stroke-width="1.2" />
<text x="410.9" y="540.3" font-size="8.4" text-anchor="end" font-weight="normal" font-style="normal" fill="#222" >10</text>
<line x1="414.09999999999997" y1="504.2" x2="417.7" y2="504.2" stroke="#1c1c1c" stroke-width="1.2" />
<text x="410.9" y="507.2" font-size="8.4" text-anchor="end" font-weight="normal" font-style="normal" fill="#222" >15</text>
<line x1="414.8" y1="603.75" x2="518.8" y2="603.75" stroke="#1c1c1c" stroke-width="1.4" />
<line x1="430.5" y1="603.75" x2="430.5" y2="607.35" stroke="#1c1c1c" stroke-width="1.2" />
<line x1="449.2" y1="603.75" x2="449.2" y2="607.35" stroke="#1c1c1c" stroke-width="1.2" />
<line x1="468" y1="603.75" x2="468" y2="607.35" stroke="#1c1c1c" stroke-width="1.2" />
<line x1="486.8" y1="603.75" x2="486.8" y2="607.35" stroke="#1c1c1c" stroke-width="1.2" />
<line x1="505.5" y1="603.75" x2="505.5" y2="607.35" stroke="#1c1c1c" stroke-width="1.2" />
<text transform="translate(434.9,614.15) rotate(-45) scale(1.0,1)" font-size="8.2" text-anchor="end" font-weight="normal" fill="#222">Day 0</text>
<text transform="translate(453.59999999999997,614.15) rotate(-45) scale(1.0,1)" font-size="8.2" text-anchor="end" font-weight="normal" fill="#222">2 mo (resp)</text>
<text transform="translate(472.4,614.15) rotate(-45) scale(1.0,1)" font-size="8.2" text-anchor="end" font-weight="normal" fill="#222">3 mo (resp)</text>
<text transform="translate(491.2,614.15) rotate(-45) scale(1.0,1)" font-size="8.2" text-anchor="end" font-weight="normal" fill="#222">8 mo (prog)</text>
<text transform="translate(508.9,614.15) rotate(-45) scale(1.0,1)" font-size="8.2" text-anchor="end" font-weight="normal" fill="#222">8.5 mo (prog)</text>
<text transform="translate(395.7,560.6) rotate(-90)" font-size="8.4" text-anchor="middle" fill="#222" textLength="75.4" lengthAdjust="spacingAndGlyphs">% proliferation inhibition</text>
</svg>
</body></html>
